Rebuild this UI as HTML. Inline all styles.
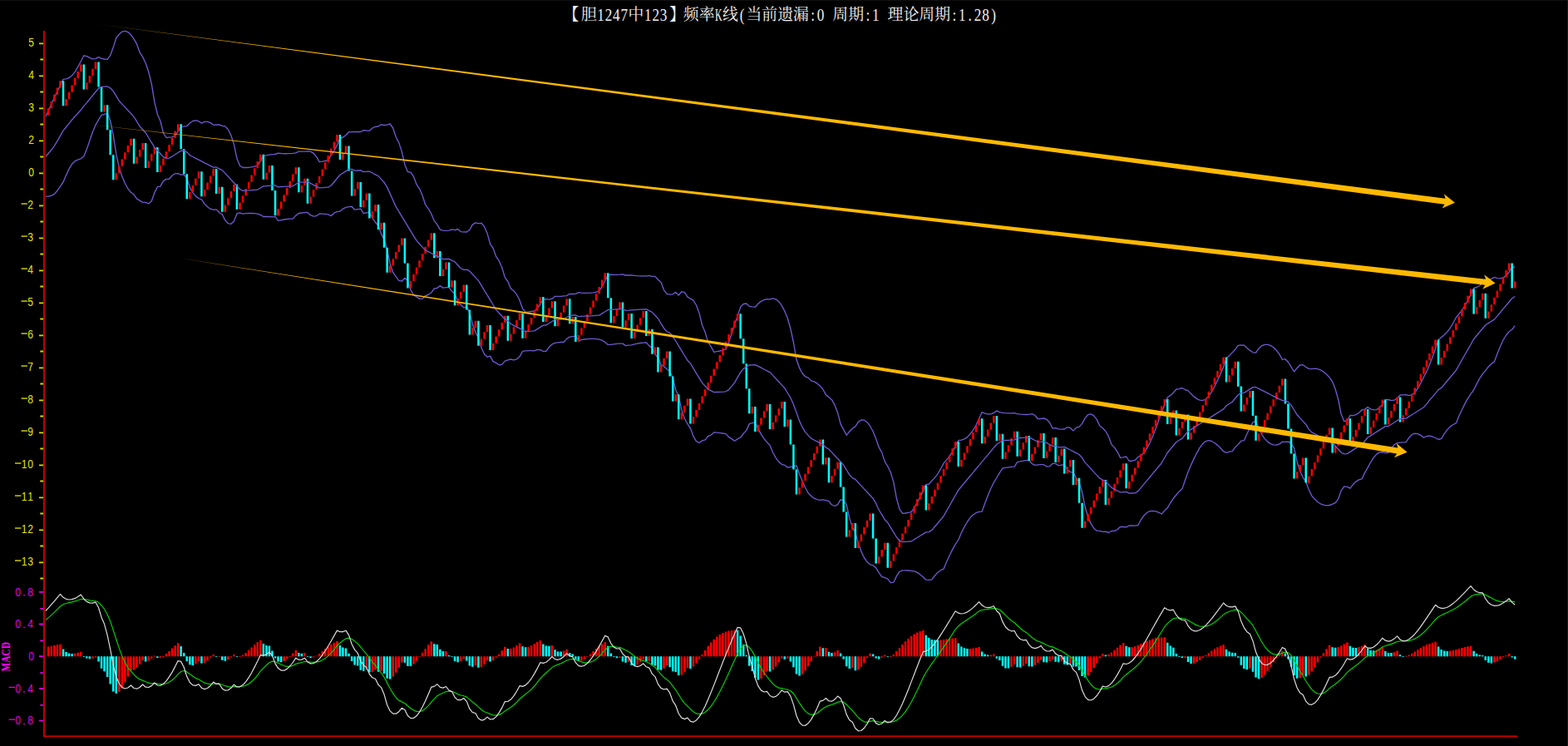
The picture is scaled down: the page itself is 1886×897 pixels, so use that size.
<!DOCTYPE html><html><head><meta charset="utf-8"><title>chart</title><style>html,body{margin:0;padding:0;background:#000;overflow:hidden}body{width:1886px;height:897px;position:relative;font-family:"Liberation Sans",sans-serif}</style></head><body><svg width="1886" height="897" viewBox="0 0 1886 897" style="position:absolute;left:0;top:0">
<rect width="1886" height="897" fill="#000"/>
<rect x="0" y="0" width="1886" height="1.2" fill="#0f0f0f"/><rect x="1884.8" y="0" width="1.2" height="897" fill="#171717"/>
<rect x="52" y="37" width="2.1" height="848.5" fill="#c00000"/>
<rect x="52" y="884.5" width="1773" height="1.5" fill="#e00000"/>
<path d="M47,52.3H52 M48.3,71.5H52 M47,91.3H52 M48.3,110.5H52 M47,130.3H52 M48.3,149.5H52 M47,169.3H52 M48.3,188.5H52 M47,208.3H52 M48.3,227.5H52 M47,247.3H52 M48.3,266.5H52 M47,286.3H52 M48.3,305.5H52 M47,325.3H52 M48.3,344.5H52 M47,364.3H52 M48.3,383.5H52 M47,403.3H52 M48.3,422.5H52 M47,442.3H52 M48.3,461.5H52 M47,481.3H52 M48.3,500.5H52 M47,520.3H52 M48.3,539.5H52 M47,559.3H52 M48.3,578.5H52 M47,598.3H52 M48.3,617.5H52 M47,637.3H52 M48.3,656.5H52 M47,676.3H52 M48.3,695.5H52" stroke="#d8d800" stroke-width="1.8" fill="none"/>
<path d="M47,711.8H52 M48.3,731.8H52 M47,750.5H52 M48.3,770.5H52 M47,789.2H52 M48.3,809.2H52 M47,827.9H52 M48.3,847.9H52 M47,866.6H52" stroke="#e000e0" stroke-width="1.8" fill="none"/>
<g font-family="Liberation Sans, sans-serif" font-size="14.4px">
<text transform="translate(37.5,56.2) scale(0.84,1)" text-anchor="middle" fill="#e6e600">5</text>
<text transform="translate(37.5,95.2) scale(0.84,1)" text-anchor="middle" fill="#e6e600">4</text>
<text transform="translate(37.5,134.2) scale(0.84,1)" text-anchor="middle" fill="#e6e600">3</text>
<text transform="translate(37.5,173.2) scale(0.84,1)" text-anchor="middle" fill="#e6e600">2</text>
<text transform="translate(37.5,212.2) scale(0.84,1)" text-anchor="middle" fill="#e6e600">0</text>
<rect x="25.5" y="244.4" width="7.4" height="1.3" fill="#e6e600"/><text transform="translate(36.5,251.2) scale(0.84,1)" text-anchor="middle" fill="#e6e600">2</text>
<rect x="25.5" y="283.4" width="7.4" height="1.3" fill="#e6e600"/><text transform="translate(36.5,290.2) scale(0.84,1)" text-anchor="middle" fill="#e6e600">3</text>
<rect x="25.5" y="322.4" width="7.4" height="1.3" fill="#e6e600"/><text transform="translate(36.5,329.2) scale(0.84,1)" text-anchor="middle" fill="#e6e600">4</text>
<rect x="25.5" y="361.4" width="7.4" height="1.3" fill="#e6e600"/><text transform="translate(36.5,368.2) scale(0.84,1)" text-anchor="middle" fill="#e6e600">5</text>
<rect x="25.5" y="400.4" width="7.4" height="1.3" fill="#e6e600"/><text transform="translate(36.5,407.2) scale(0.84,1)" text-anchor="middle" fill="#e6e600">6</text>
<rect x="25.5" y="439.4" width="7.4" height="1.3" fill="#e6e600"/><text transform="translate(36.5,446.2) scale(0.84,1)" text-anchor="middle" fill="#e6e600">7</text>
<rect x="25.5" y="478.4" width="7.4" height="1.3" fill="#e6e600"/><text transform="translate(36.5,485.2) scale(0.84,1)" text-anchor="middle" fill="#e6e600">8</text>
<rect x="25.5" y="517.4" width="7.4" height="1.3" fill="#e6e600"/><text transform="translate(36.5,524.2) scale(0.84,1)" text-anchor="middle" fill="#e6e600">9</text>
<rect x="18" y="556.4" width="7.4" height="1.3" fill="#e6e600"/><text transform="translate(29.1,563.2) scale(0.84,1)" text-anchor="middle" fill="#e6e600">1</text><text transform="translate(36.5,563.2) scale(0.84,1)" text-anchor="middle" fill="#e6e600">0</text>
<rect x="18" y="595.4" width="7.4" height="1.3" fill="#e6e600"/><text transform="translate(29.1,602.2) scale(0.84,1)" text-anchor="middle" fill="#e6e600">1</text><text transform="translate(36.5,602.2) scale(0.84,1)" text-anchor="middle" fill="#e6e600">1</text>
<rect x="18" y="634.4" width="7.4" height="1.3" fill="#e6e600"/><text transform="translate(29.1,641.2) scale(0.84,1)" text-anchor="middle" fill="#e6e600">1</text><text transform="translate(36.5,641.2) scale(0.84,1)" text-anchor="middle" fill="#e6e600">2</text>
<rect x="18" y="673.4" width="7.4" height="1.3" fill="#e6e600"/><text transform="translate(29.1,680.2) scale(0.84,1)" text-anchor="middle" fill="#e6e600">1</text><text transform="translate(36.5,680.2) scale(0.84,1)" text-anchor="middle" fill="#e6e600">3</text>
<text transform="translate(21.6,716.5) scale(0.84,1)" text-anchor="middle" fill="#e000e0">0</text><rect x="28.3" y="714.9" width="1.5" height="1.6" fill="#e000e0"/><text transform="translate(36.5,716.5) scale(0.84,1)" text-anchor="middle" fill="#e000e0">8</text>
<text transform="translate(21.6,755.2) scale(0.84,1)" text-anchor="middle" fill="#e000e0">0</text><rect x="28.3" y="753.6" width="1.5" height="1.6" fill="#e000e0"/><text transform="translate(36.5,755.2) scale(0.84,1)" text-anchor="middle" fill="#e000e0">4</text>
<text transform="translate(37.5,793.9) scale(0.84,1)" text-anchor="middle" fill="#e000e0">0</text>
<rect x="10.6" y="825.8" width="7.4" height="1.3" fill="#e000e0"/><text transform="translate(21.6,832.6) scale(0.84,1)" text-anchor="middle" fill="#e000e0">0</text><rect x="28.3" y="831" width="1.5" height="1.6" fill="#e000e0"/><text transform="translate(36.5,832.6) scale(0.84,1)" text-anchor="middle" fill="#e000e0">4</text>
<rect x="10.6" y="864.5" width="7.4" height="1.3" fill="#e000e0"/><text transform="translate(21.6,871.3) scale(0.84,1)" text-anchor="middle" fill="#e000e0">0</text><rect x="28.3" y="869.7" width="1.5" height="1.6" fill="#e000e0"/><text transform="translate(36.5,871.3) scale(0.84,1)" text-anchor="middle" fill="#e000e0">8</text>
</g>
<text transform="translate(12.4,807.5) rotate(-90)" font-family="Liberation Serif, serif" font-weight="bold" font-size="15.5px" fill="#ff00ff" textLength="35.5" lengthAdjust="spacingAndGlyphs">MACD</text>
<polyline points="54.8,140.3 58.3,133 61.8,125.2 65.4,117.3 68.9,109.9 72.5,102.8 76,95.3 79.6,94.8 83.1,93.5 86.6,90.8 90.2,86.3 93.7,80.4 97.3,73.7 100.8,66.8 104.3,67.6 107.9,69.4 111.4,70.8 115,70.7 118.5,68.6 122.1,70.4 125.6,71 129.1,71.3 132.7,66.6 136.2,57.1 139.8,45.5 143.3,41.2 146.8,38.1 150.4,37.3 153.9,38.6 157.5,41.8 161,46.9 164.6,53.2 168.1,62.9 171.6,68.4 175.2,76 178.7,86.2 182.3,100.9 185.8,122.4 189.4,137.5 192.9,145.5 196.4,159.6 200,165.5 203.5,165.1 207.1,164.9 210.6,162.7 214.1,158.4 217.7,152.4 221.2,152.2 224.8,151.7 228.3,148 231.9,145.5 235.4,144.8 238.9,145.7 242.5,148.1 246,146.4 249.6,146.3 253.1,147.6 256.7,150.2 260.2,150 263.7,150 267.3,151.3 270.8,151.9 274.4,155.7 277.9,162.7 281.4,173.6 285,190.6 288.5,199.2 292.1,201.5 295.6,201.5 299.2,201.3 302.7,200.8 306.2,200.2 309.8,199.3 313.3,193.7 316.9,187.1 320.4,186.8 323.9,186.2 327.5,185.6 331,185.5 334.6,184.2 338.1,184.5 341.7,184.7 345.2,184.7 348.7,184.6 352.3,184.3 355.8,183.8 359.4,182.1 362.9,182.2 366.5,182.1 370,181.8 373.5,182.2 377.1,184.3 380.6,188.4 384.2,194.7 387.7,194.2 391.2,193.5 394.8,192.6 398.3,186.5 401.9,181.3 405.4,174.6 409,166.5 412.5,165.1 416,162.5 419.6,158.7 423.1,158.6 426.7,158.3 430.2,158.5 433.8,158.5 437.3,156.6 440.8,157 444.4,157.2 447.9,154 451.5,152.3 455,152 458.5,149.8 462.1,150.5 465.6,150.2 469.2,149 472.7,154 476.3,164.7 479.8,171.6 483.3,182.4 486.9,198 490.4,206.5 494,207.1 497.5,212.3 501.1,221.9 504.6,227.1 508.1,235 511.7,246.3 515.2,250.9 518.8,257.2 522.3,265.6 525.8,269.8 529.4,276.2 532.9,277.2 536.5,277.3 540,277.2 543.6,275.9 547.1,276.7 550.6,275.5 554.2,278.6 557.7,278.9 561.3,279 564.8,276.5 568.3,270.1 571.9,267.9 575.4,268.7 579,268.3 582.5,272.4 586.1,280.6 589.6,293.3 593.1,298.5 596.7,308.4 600.2,313.6 603.8,321.7 607.3,333.6 610.9,338.5 614.4,346.9 617.9,349.7 621.5,354.2 625,360.9 628.6,371 632.1,375.1 635.6,375 639.2,374.5 642.7,373.9 646.3,370.9 649.8,366.1 653.4,359.8 656.9,359.6 660.4,360.2 664,359.2 667.5,356.3 671.1,356.4 674.6,356.3 678.1,355.9 681.7,355.6 685.2,353.3 688.8,353.5 692.3,353.4 695.9,351.7 699.4,352.1 702.9,352.4 706.5,352.4 710,352.2 713.6,351.8 717.1,351.1 720.7,350.2 724.2,344.7 727.7,338 731.3,330.6 734.8,330.2 738.4,330.3 741.9,330.3 745.4,330.1 749,329.8 752.5,331 756.1,331 759.6,330.9 763.2,331.4 766.7,331.7 770.2,331.9 773.8,331.9 777.3,331.8 780.9,331.3 784.4,332.4 788,332.4 791.5,336.2 795,339.2 798.6,348.8 802.1,353.3 805.7,354.2 809.2,353.8 812.7,351.4 816.3,355 819.8,350.7 823.4,351.7 826.9,356.9 830.5,359.2 834,361.2 837.5,367 841.1,376.7 844.6,391 848.2,399.6 851.7,411.6 855.2,416.7 858.8,423.4 862.3,422.7 865.9,422 869.4,421.1 873,420.1 876.5,411.9 880,401.2 883.6,390.1 887.1,379.9 890.7,369.3 894.2,365.5 897.8,365 901.3,368.3 904.8,368.8 908.4,369.2 911.9,365.1 915.5,362.3 919,360.5 922.5,359.7 926.1,359.8 929.6,358.8 933.2,359.8 936.7,362.7 940.3,367.4 943.8,374.1 947.3,382.8 950.9,395.3 954.4,411.5 958,432.3 961.5,442.1 965.1,449 968.6,452.8 972.1,454.1 975.7,457.9 979.2,458.9 982.8,460.9 986.3,463.9 989.8,468 993.4,474.9 996.9,477.4 1000.5,480.7 1004,486.9 1007.6,496.3 1011.1,509.9 1014.6,516.4 1018.2,523.3 1021.7,518.7 1025.3,515.2 1028.8,512.9 1032.3,507.4 1035.9,505 1039.4,505.2 1043,507.7 1046.5,512.2 1050.1,518.8 1053.6,527.5 1057.1,537.7 1060.7,544.1 1064.2,554.9 1067.8,560.8 1071.3,568 1074.9,580.1 1078.4,599.3 1081.9,612.1 1085.5,617.4 1089,617 1092.6,616.4 1096.1,615.6 1099.6,610.6 1103.2,604.6 1106.7,597.8 1110.3,590.4 1113.8,582.6 1117.4,582 1120.9,578 1124.4,574.4 1128,569.6 1131.5,563.7 1135.1,556.9 1138.6,552.9 1142.2,548.3 1145.7,542.8 1149.2,536.6 1152.8,529.5 1156.3,529.2 1159.9,527.9 1163.4,525.6 1166.9,522 1170.5,517.1 1174,511 1177.6,503.8 1181.1,495.6 1184.7,497.1 1188.2,497.9 1191.7,497.8 1195.3,496.5 1198.8,493.9 1202.4,495.6 1205.9,496.3 1209.4,496.7 1213,496.9 1216.5,496.8 1220.1,496.6 1223.6,497.7 1227.2,498.2 1230.7,498.4 1234.2,498.5 1237.8,498.3 1241.3,497.7 1244.9,499.5 1248.4,503.7 1252,503.5 1255.5,503 1259,504.3 1262.6,508.2 1266.1,515.2 1269.7,514.7 1273.2,515.9 1276.7,516.1 1280.3,516 1283.8,513.7 1287.4,514.5 1290.9,517.9 1294.5,514.2 1298,513.4 1301.5,509.4 1305.1,502.9 1308.6,498.6 1312.2,497.8 1315.7,499.9 1319.3,504.6 1322.8,512 1326.3,514.7 1329.9,518.5 1333.4,524.8 1337,534.4 1340.5,538.1 1344,543.3 1347.6,550.4 1351.1,549.8 1354.7,549 1358.2,554.5 1361.8,554 1365.3,553.4 1368.8,549.5 1372.4,547.7 1375.9,544.3 1379.5,539.2 1383,532.6 1386.5,524.6 1390.1,515.6 1393.6,505.8 1397.2,495.4 1400.7,486.9 1404.3,477.7 1407.8,475.4 1411.3,472.2 1414.9,468 1418.4,467.7 1422,466.5 1425.5,468.5 1429.1,469.9 1432.6,473.6 1436.1,476.9 1439.7,479.6 1443.2,481.2 1446.8,481.5 1450.3,480 1453.8,476.4 1457.4,471.2 1460.9,464.7 1464.5,457.4 1468,449.5 1471.6,441.2 1475.1,431 1478.6,427.8 1482.2,423.9 1485.7,420.2 1489.3,415.4 1492.8,414.9 1496.4,415.1 1499.9,418.4 1503.4,421.4 1507,423.8 1510.5,424.2 1514.1,419 1517.6,415.9 1521.1,414.4 1524.7,414.3 1528.2,415.4 1531.8,417.7 1535.3,421.2 1538.9,426 1542.4,432.3 1545.9,431.7 1549.5,435.5 1553,441.2 1556.6,447 1560.1,442.4 1563.6,438.9 1567.2,438.7 1570.7,441.3 1574.3,443.3 1577.8,443.6 1581.4,443.1 1584.9,443.6 1588.4,444.8 1592,447 1595.5,450 1599.1,453.9 1602.6,458.8 1606.2,468 1609.7,480.5 1613.2,498.1 1616.8,506.7 1620.3,505.8 1623.9,499.5 1627.4,499.7 1630.9,498.7 1634.5,496.5 1638,493 1641.6,492.1 1645.1,489.6 1648.7,491.8 1652.2,492.9 1655.7,492.6 1659.3,490.3 1662.8,486.3 1666.4,480.7 1669.9,480.5 1673.5,481.6 1677,481.2 1680.5,479 1684.1,475 1687.6,474.9 1691.2,474.6 1694.7,475.6 1698.2,474.7 1701.8,471.8 1705.3,467 1708.9,460.7 1712.4,453.5 1716,446.7 1719.5,438.5 1723,429.2 1726.6,419.3 1730.1,408.8 1733.7,405.4 1737.2,402.8 1740.7,399.1 1744.3,394.3 1747.8,388.5 1751.4,381.7 1754.9,377.7 1758.5,373 1762,367.6 1765.5,361.3 1769.1,354.3 1772.6,346.5 1776.2,345.5 1779.7,343.5 1783.3,340.5 1786.8,336.2 1790.3,336.2 1793.9,335.3 1797.4,333.4 1801,334.6 1804.5,334.8 1808,333.9 1811.6,331.4 1815.1,327.2 1818.7,321.2 1822.2,321.3" fill="none" stroke="#6a5acd" stroke-width="1.35" stroke-linejoin="round"/>
<polyline points="54.8,236.1 58.3,236 61.8,235.4 65.4,233.4 68.9,229.3 72.5,224.1 76,219 79.6,210.6 83.1,203.1 86.6,197.2 90.2,193.7 93.7,192.1 97.3,190.8 100.8,188 104.3,179.6 107.9,169 111.4,158.8 115,150.2 118.5,144.2 122.1,138.4 125.6,137.4 129.1,136.6 132.7,145 136.2,162.1 139.8,185.4 143.3,201.3 146.8,212.1 150.4,220.5 153.9,226.8 157.5,231.3 161,233.8 164.6,239.2 168.1,241.1 171.6,243.3 175.2,243.4 178.7,244.8 182.3,241.7 185.8,231.9 189.4,224.5 192.9,224.1 196.4,217.6 200,215.4 203.5,215.3 207.1,211 210.6,208.8 214.1,208.7 217.7,210.2 221.2,210 224.8,214.1 228.3,225.4 231.9,231.6 235.4,235.9 238.9,238.6 242.5,239.8 246,245.1 249.6,248.8 253.1,251.2 256.7,252.2 260.2,251.9 263.7,255.5 267.3,257.9 270.8,264.9 274.4,268.7 277.9,269.3 281.4,266.1 285,256.7 288.5,255.8 292.1,257.1 295.6,256.7 299.2,256.4 302.7,256.5 306.2,256.7 309.8,257.2 313.3,258.3 316.9,260.5 320.4,260.4 323.9,260.5 327.5,260.8 331,260.4 334.6,265.4 338.1,264.6 341.7,264 345.2,263.5 348.7,263.2 352.3,263.1 355.8,259.1 359.4,256.5 362.9,256 366.5,255.6 370,255.4 373.5,258.7 377.1,260.2 380.6,259.7 384.2,257 387.7,257.1 391.2,257.4 394.8,257.9 398.3,259.6 401.9,256.2 405.4,254.5 409,254.1 412.5,251.1 416,249.3 419.6,248.6 423.1,248.3 426.7,252.2 430.2,251.6 433.8,251.1 437.3,256.6 440.8,255.8 444.4,255.2 447.9,262.1 451.5,267.3 455,271.2 458.5,281.1 462.1,288 465.6,300 469.2,316.9 472.7,327.5 476.3,332.6 479.8,337.3 483.3,338.2 486.9,334.3 490.4,337.4 494,348.5 497.5,354.9 501.1,356.9 504.6,359.4 508.1,359.2 511.7,355.5 515.2,354.5 518.8,351.8 522.3,347 525.8,346.4 529.4,343.6 532.9,346.2 536.5,345.7 540,345.4 543.6,350.3 547.1,353.2 550.6,362 554.2,366.5 557.7,369.8 561.3,369.2 564.8,375.4 568.3,389.4 571.9,399.2 575.4,406.1 579,418.1 582.5,425.7 586.1,429.2 589.6,428.1 593.1,434.6 596.7,436.4 600.2,438.8 603.8,438.3 607.3,434.1 610.9,432.8 614.4,432 617.9,432.9 621.5,431.9 625,428.8 628.6,422.3 632.1,421.9 635.6,421.6 639.2,421.6 642.7,421.8 646.3,420.3 649.8,420.7 653.4,422.5 656.9,422.4 660.4,417.3 664,413.9 667.5,412.3 671.1,411.8 674.6,411.5 678.1,411.5 681.7,407.4 685.2,405.1 688.8,404.6 692.3,404.2 695.9,409.6 699.4,408.7 702.9,408 706.5,407.6 710,407.4 713.6,407.4 717.1,407.7 720.7,408.1 724.2,409.2 727.7,411.4 731.3,414.4 734.8,414.4 738.4,413.8 741.9,413.4 745.4,413.2 749,413.1 752.5,415.6 756.1,415.1 759.6,414.8 763.2,413.9 766.7,413.1 770.2,412.5 773.8,412.1 777.3,411.8 780.9,415.9 784.4,418.4 788,426.1 791.5,429.9 795,438.5 798.6,440.6 802.1,443.8 805.7,446.5 809.2,454.5 812.7,468.5 816.3,476.6 819.8,492.6 823.4,503.3 826.9,509.7 830.5,515 834,524.7 837.5,530.6 841.1,532.5 844.6,529.9 848.2,528.9 851.7,524.5 855.2,523.1 858.8,520 862.3,520.2 865.9,520.6 869.4,521 873,521.6 876.5,525.4 880,527.6 883.6,530.2 887.1,527.9 890.7,526 894.2,521.4 897.8,517.4 901.3,509.6 904.8,508.7 908.4,507.9 911.9,515.6 915.5,522.1 919,527.4 922.5,531.8 926.1,535.4 929.6,544 933.2,550.6 936.7,555.4 940.3,558.3 943.8,559.3 947.3,562.2 950.9,561.3 954.4,560.8 958,559.8 961.5,569.7 965.1,578.4 968.6,586.3 972.1,592.7 975.7,596.5 979.2,599.1 982.8,600.7 986.3,601.3 989.8,600.9 993.4,601.6 996.9,602.7 1000.5,607 1004,608.5 1007.6,606.7 1011.1,600.7 1014.6,601.9 1018.2,606.7 1021.7,622.9 1025.3,634.1 1028.8,639.9 1032.3,653.1 1035.9,663.1 1039.4,670.5 1043,675.7 1046.5,678.8 1050.1,679.8 1053.6,682.8 1057.1,688.3 1060.7,693.6 1064.2,694.5 1067.8,696.2 1071.3,700.7 1074.9,700.2 1078.4,692.6 1081.9,687.5 1085.5,685.8 1089,685.8 1092.6,686 1096.1,686.3 1099.6,686.9 1103.2,688.4 1106.7,690.8 1110.3,693.8 1113.8,697.2 1117.4,697.3 1120.9,696.8 1124.4,692 1128,688.3 1131.5,685.7 1135.1,684.1 1138.6,675.5 1142.2,667.7 1145.7,660.6 1149.2,654.4 1152.8,649 1156.3,640.8 1159.9,633.6 1163.4,627.5 1166.9,622.6 1170.5,619 1174,616.7 1177.6,615.4 1181.1,615.1 1184.7,605.2 1188.2,595.9 1191.7,587.5 1195.3,580.3 1198.8,574.5 1202.4,568.3 1205.9,563.2 1209.4,562.4 1213,561.8 1216.5,561.4 1220.1,561.2 1223.6,555.6 1227.2,554.8 1230.7,554.1 1234.2,553.6 1237.8,553.4 1241.3,557.6 1244.9,559.4 1248.4,558.9 1252,558.6 1255.5,558.7 1259,561 1262.6,560.7 1266.1,557.3 1269.7,557.4 1273.2,559.8 1276.7,559.2 1280.3,558.8 1283.8,564.8 1287.4,567.6 1290.9,567.8 1294.5,575.1 1298,579.5 1301.5,591.2 1305.1,609.3 1308.6,621.3 1312.2,629.7 1315.7,635.2 1319.3,638.2 1322.8,638.4 1326.3,639.3 1329.9,639.1 1333.4,640.5 1337,638.5 1340.5,638.4 1344,636.8 1347.6,633.3 1351.1,633.5 1354.7,633.9 1358.2,632 1361.8,632 1365.3,632.2 1368.8,631.7 1372.4,625 1375.9,619.9 1379.5,616.5 1383,614.7 1386.5,614.3 1390.1,614.8 1393.6,616.1 1397.2,618 1400.7,614.1 1404.3,610.7 1407.8,604.5 1411.3,599.3 1414.9,595 1418.4,590.9 1422,587.6 1425.5,577.2 1429.1,567.3 1432.6,559.1 1436.1,551.4 1439.7,544.3 1443.2,538.2 1446.8,533.5 1450.3,530.6 1453.8,529.7 1457.4,530.5 1460.9,532.5 1464.5,535.4 1468,538.8 1471.6,542.7 1475.1,544.4 1478.6,543.1 1482.2,542.6 1485.7,537.9 1489.3,534.2 1492.8,530.2 1496.4,529.7 1499.9,521.8 1503.4,514.4 1507,507.6 1510.5,506.7 1514.1,515.6 1517.6,522.3 1521.1,527.4 1524.7,531.1 1528.2,533.6 1531.8,534.9 1535.3,535.1 1538.9,533.9 1542.4,531.2 1545.9,531.3 1549.5,531.2 1553,533.1 1556.6,538.9 1560.1,555.2 1563.6,566.3 1567.2,574.1 1570.7,579.2 1574.3,588.8 1577.8,596.1 1581.4,600.3 1584.9,603.5 1588.4,605.8 1592,607.2 1595.5,607.8 1599.1,607.5 1602.6,606.2 1606.2,604.7 1609.7,599.9 1613.2,589.9 1616.8,584.9 1620.3,585.3 1623.9,587.2 1627.4,582.6 1630.9,579.1 1634.5,576.9 1638,575.9 1641.6,568.4 1645.1,562.4 1648.7,555.8 1652.2,550.2 1655.7,546.1 1659.3,543.9 1662.8,543.5 1666.4,544.6 1669.9,544.4 1673.5,538.9 1677,534.8 1680.5,532.6 1684.1,532.2 1687.6,531.8 1691.2,531.7 1694.7,526.3 1698.2,522.7 1701.8,521.2 1705.3,521.6 1708.9,523.4 1712.4,526.2 1716,524.5 1719.5,524.2 1723,525 1726.6,526.5 1730.1,528.5 1733.7,527.4 1737.2,521.6 1740.7,516.8 1744.3,513.1 1747.8,510.5 1751.4,508.8 1754.9,500.3 1758.5,492.5 1762,485.4 1765.5,479.2 1769.1,473.7 1772.6,469 1776.2,461.6 1779.7,455.1 1783.3,449.6 1786.8,445.4 1790.3,441 1793.9,437.4 1797.4,434.9 1801,425.3 1804.5,416.5 1808,409 1811.6,403 1815.1,398.8 1818.7,396.3 1822.2,391.7" fill="none" stroke="#6a5acd" stroke-width="1.35" stroke-linejoin="round"/>
<path d="M57,130.2h2.5v8.3h-2.5zM60.6,122h2.5v8.3h-2.5zM64.1,113.7h2.5v8.3h-2.5zM67.7,105.5h2.5v8.3h-2.5zM71.2,97.2h2.5v8.3h-2.5zM78.3,118.9h2.5v8.3h-2.5zM81.8,110.7h2.5v8.3h-2.5zM85.4,102.4h2.5v8.3h-2.5zM88.9,94.1h2.5v8.3h-2.5zM92.5,85.9h2.5v8.3h-2.5zM96,77.6h2.5v8.3h-2.5zM103.1,99.3h2.5v8.3h-2.5zM106.6,91.1h2.5v8.3h-2.5zM110.2,82.8h2.5v8.3h-2.5zM113.7,74.6h2.5v8.3h-2.5zM124.3,126.3h2.5v8.3h-2.5zM138.5,208h2.5v8.3h-2.5zM142.1,199.7h2.5v8.3h-2.5zM145.6,191.5h2.5v8.3h-2.5zM149.1,183.2h2.5v8.3h-2.5zM152.7,174.9h2.5v8.3h-2.5zM156.2,166.7h2.5v8.3h-2.5zM163.3,188.4h2.5v8.3h-2.5zM166.9,180.1h2.5v8.3h-2.5zM170.4,171.9h2.5v8.3h-2.5zM177.5,193.6h2.5v8.3h-2.5zM181,185.3h2.5v8.3h-2.5zM184.6,177.1h2.5v8.3h-2.5zM191.6,198.8h2.5v8.3h-2.5zM195.2,190.5h2.5v8.3h-2.5zM198.7,182.3h2.5v8.3h-2.5zM202.3,174h2.5v8.3h-2.5zM205.8,165.8h2.5v8.3h-2.5zM209.4,157.5h2.5v8.3h-2.5zM212.9,149.2h2.5v8.3h-2.5zM227.1,230.9h2.5v8.3h-2.5zM230.6,222.7h2.5v8.3h-2.5zM234.1,214.4h2.5v8.3h-2.5zM237.7,206.2h2.5v8.3h-2.5zM244.8,227.9h2.5v8.3h-2.5zM248.3,219.6h2.5v8.3h-2.5zM251.9,211.4h2.5v8.3h-2.5zM255.4,203.1h2.5v8.3h-2.5zM262.5,224.8h2.5v8.3h-2.5zM269.6,246.6h2.5v8.3h-2.5zM273.1,238.3h2.5v8.3h-2.5zM276.7,230h2.5v8.3h-2.5zM280.2,221.8h2.5v8.3h-2.5zM287.3,243.5h2.5v8.3h-2.5zM290.8,235.2h2.5v8.3h-2.5zM294.4,227h2.5v8.3h-2.5zM297.9,218.7h2.5v8.3h-2.5zM301.4,210.5h2.5v8.3h-2.5zM305,202.2h2.5v8.3h-2.5zM308.5,193.9h2.5v8.3h-2.5zM312.1,185.7h2.5v8.3h-2.5zM319.2,207.4h2.5v8.3h-2.5zM322.7,199.1h2.5v8.3h-2.5zM333.3,250.9h2.5v8.3h-2.5zM336.9,242.6h2.5v8.3h-2.5zM340.4,234.3h2.5v8.3h-2.5zM344,226.1h2.5v8.3h-2.5zM347.5,217.8h2.5v8.3h-2.5zM351,209.5h2.5v8.3h-2.5zM354.6,201.3h2.5v8.3h-2.5zM361.7,223h2.5v8.3h-2.5zM365.2,214.7h2.5v8.3h-2.5zM372.3,236.5h2.5v8.3h-2.5zM375.8,228.2h2.5v8.3h-2.5zM379.4,220h2.5v8.3h-2.5zM382.9,211.7h2.5v8.3h-2.5zM386.5,203.4h2.5v8.3h-2.5zM390,195.2h2.5v8.3h-2.5zM393.5,186.9h2.5v8.3h-2.5zM397.1,178.6h2.5v8.3h-2.5zM400.6,170.4h2.5v8.3h-2.5zM404.2,162.1h2.5v8.3h-2.5zM411.2,183.9h2.5v8.3h-2.5zM414.8,175.6h2.5v8.3h-2.5zM425.4,227.3h2.5v8.3h-2.5zM429,219h2.5v8.3h-2.5zM436,240.8h2.5v8.3h-2.5zM439.6,232.5h2.5v8.3h-2.5zM446.7,254.2h2.5v8.3h-2.5zM450.2,246h2.5v8.3h-2.5zM457.3,267.7h2.5v8.3h-2.5zM467.9,319.4h2.5v8.3h-2.5zM471.5,311.2h2.5v8.3h-2.5zM475,302.9h2.5v8.3h-2.5zM478.5,294.6h2.5v8.3h-2.5zM482.1,286.4h2.5v8.3h-2.5zM492.7,338.1h2.5v8.3h-2.5zM496.3,329.8h2.5v8.3h-2.5zM499.8,321.6h2.5v8.3h-2.5zM503.3,313.3h2.5v8.3h-2.5zM506.9,305h2.5v8.3h-2.5zM510.4,296.8h2.5v8.3h-2.5zM514,288.5h2.5v8.3h-2.5zM517.5,280.3h2.5v8.3h-2.5zM524.6,302h2.5v8.3h-2.5zM531.7,323.7h2.5v8.3h-2.5zM535.2,315.5h2.5v8.3h-2.5zM542.3,337.2h2.5v8.3h-2.5zM549.4,358.9h2.5v8.3h-2.5zM552.9,350.7h2.5v8.3h-2.5zM556.5,342.4h2.5v8.3h-2.5zM567.1,394.1h2.5v8.3h-2.5zM570.6,385.8h2.5v8.3h-2.5zM577.7,407.6h2.5v8.3h-2.5zM581.3,399.3h2.5v8.3h-2.5zM584.8,391h2.5v8.3h-2.5zM591.9,412.8h2.5v8.3h-2.5zM595.4,404.5h2.5v8.3h-2.5zM599,396.3h2.5v8.3h-2.5zM602.5,388h2.5v8.3h-2.5zM606.1,379.7h2.5v8.3h-2.5zM613.1,401.5h2.5v8.3h-2.5zM616.7,393.2h2.5v8.3h-2.5zM620.2,384.9h2.5v8.3h-2.5zM623.8,376.7h2.5v8.3h-2.5zM630.9,398.4h2.5v8.3h-2.5zM634.4,390.1h2.5v8.3h-2.5zM637.9,381.9h2.5v8.3h-2.5zM641.5,373.6h2.5v8.3h-2.5zM645,365.4h2.5v8.3h-2.5zM648.6,357.1h2.5v8.3h-2.5zM655.6,378.8h2.5v8.3h-2.5zM659.2,370.6h2.5v8.3h-2.5zM662.7,362.3h2.5v8.3h-2.5zM669.8,384h2.5v8.3h-2.5zM673.4,375.8h2.5v8.3h-2.5zM676.9,367.5h2.5v8.3h-2.5zM680.4,359.2h2.5v8.3h-2.5zM687.5,381h2.5v8.3h-2.5zM694.6,402.7h2.5v8.3h-2.5zM698.2,394.4h2.5v8.3h-2.5zM701.7,386.2h2.5v8.3h-2.5zM705.2,377.9h2.5v8.3h-2.5zM708.8,369.6h2.5v8.3h-2.5zM712.3,361.4h2.5v8.3h-2.5zM715.9,353.1h2.5v8.3h-2.5zM719.4,344.9h2.5v8.3h-2.5zM722.9,336.6h2.5v8.3h-2.5zM726.5,328.3h2.5v8.3h-2.5zM737.1,380.1h2.5v8.3h-2.5zM740.7,371.8h2.5v8.3h-2.5zM744.2,363.5h2.5v8.3h-2.5zM751.3,385.3h2.5v8.3h-2.5zM754.8,377h2.5v8.3h-2.5zM761.9,398.7h2.5v8.3h-2.5zM765.4,390.5h2.5v8.3h-2.5zM769,382.2h2.5v8.3h-2.5zM772.5,373.9h2.5v8.3h-2.5zM779.6,395.7h2.5v8.3h-2.5zM786.7,417.4h2.5v8.3h-2.5zM793.8,439.1h2.5v8.3h-2.5zM797.3,430.9h2.5v8.3h-2.5zM800.9,422.6h2.5v8.3h-2.5zM811.5,474.3h2.5v8.3h-2.5zM818.6,496.1h2.5v8.3h-2.5zM822.1,487.8h2.5v8.3h-2.5zM825.7,479.5h2.5v8.3h-2.5zM832.7,501.3h2.5v8.3h-2.5zM836.3,493h2.5v8.3h-2.5zM839.8,484.7h2.5v8.3h-2.5zM843.4,476.5h2.5v8.3h-2.5zM846.9,468.2h2.5v8.3h-2.5zM850.5,459.9h2.5v8.3h-2.5zM854,451.7h2.5v8.3h-2.5zM857.5,443.4h2.5v8.3h-2.5zM861.1,435.2h2.5v8.3h-2.5zM864.6,426.9h2.5v8.3h-2.5zM868.2,418.6h2.5v8.3h-2.5zM871.7,410.4h2.5v8.3h-2.5zM875.3,402.1h2.5v8.3h-2.5zM878.8,393.9h2.5v8.3h-2.5zM882.3,385.6h2.5v8.3h-2.5zM885.9,377.3h2.5v8.3h-2.5zM903.6,489h2.5v8.3h-2.5zM910.7,510.8h2.5v8.3h-2.5zM914.2,502.5h2.5v8.3h-2.5zM917.8,494.2h2.5v8.3h-2.5zM921.3,486h2.5v8.3h-2.5zM928.4,507.7h2.5v8.3h-2.5zM931.9,499.4h2.5v8.3h-2.5zM935.5,491.2h2.5v8.3h-2.5zM939,482.9h2.5v8.3h-2.5zM946.1,504.6h2.5v8.3h-2.5zM960.3,586.3h2.5v8.3h-2.5zM963.8,578.1h2.5v8.3h-2.5zM967.3,569.8h2.5v8.3h-2.5zM970.9,561.6h2.5v8.3h-2.5zM974.4,553.3h2.5v8.3h-2.5zM978,545h2.5v8.3h-2.5zM981.5,536.8h2.5v8.3h-2.5zM985.1,528.5h2.5v8.3h-2.5zM992.1,550.2h2.5v8.3h-2.5zM999.2,572h2.5v8.3h-2.5zM1002.8,563.7h2.5v8.3h-2.5zM1006.3,555.4h2.5v8.3h-2.5zM1020.5,637.2h2.5v8.3h-2.5zM1024,628.9h2.5v8.3h-2.5zM1031.1,650.6h2.5v8.3h-2.5zM1034.6,642.4h2.5v8.3h-2.5zM1038.2,634.1h2.5v8.3h-2.5zM1041.7,625.8h2.5v8.3h-2.5zM1045.3,617.6h2.5v8.3h-2.5zM1055.9,669.3h2.5v8.3h-2.5zM1059.4,661h2.5v8.3h-2.5zM1063,652.8h2.5v8.3h-2.5zM1070.1,674.5h2.5v8.3h-2.5zM1073.6,666.2h2.5v8.3h-2.5zM1077.1,658h2.5v8.3h-2.5zM1080.7,649.7h2.5v8.3h-2.5zM1084.2,641.5h2.5v8.3h-2.5zM1087.8,633.2h2.5v8.3h-2.5zM1091.3,624.9h2.5v8.3h-2.5zM1094.9,616.7h2.5v8.3h-2.5zM1098.4,608.4h2.5v8.3h-2.5zM1101.9,600.1h2.5v8.3h-2.5zM1105.5,591.9h2.5v8.3h-2.5zM1109,583.6h2.5v8.3h-2.5zM1116.1,605.3h2.5v8.3h-2.5zM1119.6,597.1h2.5v8.3h-2.5zM1123.2,588.8h2.5v8.3h-2.5zM1126.7,580.6h2.5v8.3h-2.5zM1130.3,572.3h2.5v8.3h-2.5zM1133.8,564h2.5v8.3h-2.5zM1137.4,555.8h2.5v8.3h-2.5zM1140.9,547.5h2.5v8.3h-2.5zM1144.4,539.3h2.5v8.3h-2.5zM1148,531h2.5v8.3h-2.5zM1155.1,552.7h2.5v8.3h-2.5zM1158.6,544.5h2.5v8.3h-2.5zM1162.2,536.2h2.5v8.3h-2.5zM1165.7,527.9h2.5v8.3h-2.5zM1169.2,519.7h2.5v8.3h-2.5zM1172.8,511.4h2.5v8.3h-2.5zM1176.3,503.2h2.5v8.3h-2.5zM1183.4,524.9h2.5v8.3h-2.5zM1186.9,516.6h2.5v8.3h-2.5zM1190.5,508.4h2.5v8.3h-2.5zM1194,500.1h2.5v8.3h-2.5zM1201.1,521.8h2.5v8.3h-2.5zM1208.2,543.5h2.5v8.3h-2.5zM1211.7,535.3h2.5v8.3h-2.5zM1215.3,527h2.5v8.3h-2.5zM1218.8,518.8h2.5v8.3h-2.5zM1225.9,540.5h2.5v8.3h-2.5zM1229.5,532.2h2.5v8.3h-2.5zM1233,524h2.5v8.3h-2.5zM1240.1,545.7h2.5v8.3h-2.5zM1243.6,537.4h2.5v8.3h-2.5zM1247.2,529.2h2.5v8.3h-2.5zM1250.7,520.9h2.5v8.3h-2.5zM1257.8,542.6h2.5v8.3h-2.5zM1261.3,534.4h2.5v8.3h-2.5zM1264.9,526.1h2.5v8.3h-2.5zM1272,547.8h2.5v8.3h-2.5zM1275.5,539.6h2.5v8.3h-2.5zM1282.6,561.3h2.5v8.3h-2.5zM1286.1,553h2.5v8.3h-2.5zM1293.2,574.8h2.5v8.3h-2.5zM1303.8,626.5h2.5v8.3h-2.5zM1307.4,618.2h2.5v8.3h-2.5zM1310.9,610h2.5v8.3h-2.5zM1314.5,601.7h2.5v8.3h-2.5zM1318,593.4h2.5v8.3h-2.5zM1321.5,585.2h2.5v8.3h-2.5zM1325.1,576.9h2.5v8.3h-2.5zM1332.2,598.7h2.5v8.3h-2.5zM1335.7,590.4h2.5v8.3h-2.5zM1339.3,582.1h2.5v8.3h-2.5zM1342.8,573.9h2.5v8.3h-2.5zM1346.3,565.6h2.5v8.3h-2.5zM1349.9,557.3h2.5v8.3h-2.5zM1357,579.1h2.5v8.3h-2.5zM1360.5,570.8h2.5v8.3h-2.5zM1364,562.5h2.5v8.3h-2.5zM1367.6,554.3h2.5v8.3h-2.5zM1371.1,546h2.5v8.3h-2.5zM1374.7,537.8h2.5v8.3h-2.5zM1378.2,529.5h2.5v8.3h-2.5zM1381.8,521.2h2.5v8.3h-2.5zM1385.3,513h2.5v8.3h-2.5zM1388.8,504.7h2.5v8.3h-2.5zM1392.4,496.5h2.5v8.3h-2.5zM1395.9,488.2h2.5v8.3h-2.5zM1399.5,479.9h2.5v8.3h-2.5zM1406.6,501.7h2.5v8.3h-2.5zM1410.1,493.4h2.5v8.3h-2.5zM1417.2,515.1h2.5v8.3h-2.5zM1420.7,506.9h2.5v8.3h-2.5zM1424.3,498.6h2.5v8.3h-2.5zM1431.3,520.3h2.5v8.3h-2.5zM1434.9,512.1h2.5v8.3h-2.5zM1438.4,503.8h2.5v8.3h-2.5zM1442,495.5h2.5v8.3h-2.5zM1445.5,487.3h2.5v8.3h-2.5zM1449.1,479h2.5v8.3h-2.5zM1452.6,470.8h2.5v8.3h-2.5zM1456.1,462.5h2.5v8.3h-2.5zM1459.7,454.2h2.5v8.3h-2.5zM1463.2,446h2.5v8.3h-2.5zM1466.8,437.7h2.5v8.3h-2.5zM1470.3,429.5h2.5v8.3h-2.5zM1477.4,451.2h2.5v8.3h-2.5zM1480.9,442.9h2.5v8.3h-2.5zM1484.5,434.7h2.5v8.3h-2.5zM1495.1,486.4h2.5v8.3h-2.5zM1498.6,478.1h2.5v8.3h-2.5zM1502.2,469.9h2.5v8.3h-2.5zM1512.8,521.6h2.5v8.3h-2.5zM1516.4,513.3h2.5v8.3h-2.5zM1519.9,505h2.5v8.3h-2.5zM1523.4,496.8h2.5v8.3h-2.5zM1527,488.5h2.5v8.3h-2.5zM1530.5,480.3h2.5v8.3h-2.5zM1534.1,472h2.5v8.3h-2.5zM1537.6,463.7h2.5v8.3h-2.5zM1541.1,455.5h2.5v8.3h-2.5zM1558.9,567.2h2.5v8.3h-2.5zM1562.4,558.9h2.5v8.3h-2.5zM1565.9,550.6h2.5v8.3h-2.5zM1573,572.4h2.5v8.3h-2.5zM1576.6,564.1h2.5v8.3h-2.5zM1580.1,555.9h2.5v8.3h-2.5zM1583.7,547.6h2.5v8.3h-2.5zM1587.2,539.3h2.5v8.3h-2.5zM1590.7,531.1h2.5v8.3h-2.5zM1594.3,522.8h2.5v8.3h-2.5zM1597.8,514.5h2.5v8.3h-2.5zM1604.9,536.3h2.5v8.3h-2.5zM1608.4,528h2.5v8.3h-2.5zM1612,519.7h2.5v8.3h-2.5zM1615.5,511.5h2.5v8.3h-2.5zM1619.1,503.2h2.5v8.3h-2.5zM1626.2,525h2.5v8.3h-2.5zM1629.7,516.7h2.5v8.3h-2.5zM1633.2,508.4h2.5v8.3h-2.5zM1636.8,500.2h2.5v8.3h-2.5zM1640.3,491.9h2.5v8.3h-2.5zM1647.4,513.6h2.5v8.3h-2.5zM1650.9,505.4h2.5v8.3h-2.5zM1654.5,497.1h2.5v8.3h-2.5zM1658,488.8h2.5v8.3h-2.5zM1661.6,480.6h2.5v8.3h-2.5zM1668.7,502.3h2.5v8.3h-2.5zM1672.2,494.1h2.5v8.3h-2.5zM1675.7,485.8h2.5v8.3h-2.5zM1679.3,477.5h2.5v8.3h-2.5zM1686.4,499.3h2.5v8.3h-2.5zM1689.9,491h2.5v8.3h-2.5zM1693.5,482.7h2.5v8.3h-2.5zM1697,474.5h2.5v8.3h-2.5zM1700.5,466.2h2.5v8.3h-2.5zM1704.1,458h2.5v8.3h-2.5zM1707.6,449.7h2.5v8.3h-2.5zM1711.2,441.4h2.5v8.3h-2.5zM1714.7,433.2h2.5v8.3h-2.5zM1718.2,424.9h2.5v8.3h-2.5zM1721.8,416.6h2.5v8.3h-2.5zM1725.3,408.4h2.5v8.3h-2.5zM1732.4,430.1h2.5v8.3h-2.5zM1736,421.8h2.5v8.3h-2.5zM1739.5,413.6h2.5v8.3h-2.5zM1743,405.3h2.5v8.3h-2.5zM1746.6,397.1h2.5v8.3h-2.5zM1750.1,388.8h2.5v8.3h-2.5zM1753.7,380.5h2.5v8.3h-2.5zM1757.2,372.3h2.5v8.3h-2.5zM1760.8,364h2.5v8.3h-2.5zM1764.3,355.8h2.5v8.3h-2.5zM1767.8,347.5h2.5v8.3h-2.5zM1774.9,369.2h2.5v8.3h-2.5zM1778.5,361h2.5v8.3h-2.5zM1782,352.7h2.5v8.3h-2.5zM1789.1,374.4h2.5v8.3h-2.5zM1792.6,366.2h2.5v8.3h-2.5zM1796.2,357.9h2.5v8.3h-2.5zM1799.7,349.6h2.5v8.3h-2.5zM1803.3,341.4h2.5v8.3h-2.5zM1806.8,333.1h2.5v8.3h-2.5zM1810.3,324.9h2.5v8.3h-2.5zM1813.9,316.6h2.5v8.3h-2.5zM1821,338.3h2.5v8.3h-2.5z" fill="#ff0000"/>
<path d="M74.8,97.2h2.5v30h-2.5zM99.6,77.6h2.5v30h-2.5zM117.3,74.6h2.5v30h-2.5zM120.8,104.5h2.5v30h-2.5zM127.9,126.3h2.5v30h-2.5zM131.4,156.3h2.5v30h-2.5zM135,186.3h2.5v30h-2.5zM159.8,166.7h2.5v30h-2.5zM173.9,171.9h2.5v30h-2.5zM188.1,177.1h2.5v30h-2.5zM216.4,149.2h2.5v30h-2.5zM220,179.2h2.5v30h-2.5zM223.5,209.2h2.5v30h-2.5zM241.2,206.2h2.5v30h-2.5zM258.9,203.1h2.5v30h-2.5zM266,224.8h2.5v30h-2.5zM283.7,221.8h2.5v30h-2.5zM315.6,185.7h2.5v30h-2.5zM326.2,199.1h2.5v30h-2.5zM329.8,229.1h2.5v30h-2.5zM358.1,201.3h2.5v30h-2.5zM368.7,214.7h2.5v30h-2.5zM407.7,162.1h2.5v30h-2.5zM418.3,175.6h2.5v30h-2.5zM421.9,205.6h2.5v30h-2.5zM432.5,219h2.5v30h-2.5zM443.1,232.5h2.5v30h-2.5zM453.8,246h2.5v30h-2.5zM460.8,267.7h2.5v30h-2.5zM464.4,297.7h2.5v30h-2.5zM485.6,286.4h2.5v30h-2.5zM489.2,316.4h2.5v30h-2.5zM521.1,280.3h2.5v30h-2.5zM528.1,302h2.5v30h-2.5zM538.8,315.5h2.5v30h-2.5zM545.8,337.2h2.5v30h-2.5zM560,342.4h2.5v30h-2.5zM563.6,372.4h2.5v30h-2.5zM574.2,385.8h2.5v30h-2.5zM588.3,391h2.5v30h-2.5zM609.6,379.7h2.5v30h-2.5zM627.3,376.7h2.5v30h-2.5zM652.1,357.1h2.5v30h-2.5zM666.3,362.3h2.5v30h-2.5zM684,359.2h2.5v30h-2.5zM691.1,381h2.5v30h-2.5zM730,328.3h2.5v30h-2.5zM733.6,358.3h2.5v30h-2.5zM747.7,363.5h2.5v30h-2.5zM758.4,377h2.5v30h-2.5zM776.1,373.9h2.5v30h-2.5zM783.2,395.7h2.5v30h-2.5zM790.2,417.4h2.5v30h-2.5zM804.4,422.6h2.5v30h-2.5zM808,452.6h2.5v30h-2.5zM815,474.3h2.5v30h-2.5zM829.2,479.5h2.5v30h-2.5zM889.4,377.3h2.5v30h-2.5zM893,407.3h2.5v30h-2.5zM896.5,437.3h2.5v30h-2.5zM900,467.3h2.5v30h-2.5zM907.1,489h2.5v30h-2.5zM924.8,486h2.5v30h-2.5zM942.5,482.9h2.5v30h-2.5zM949.6,504.6h2.5v30h-2.5zM953.2,534.6h2.5v30h-2.5zM956.7,564.6h2.5v30h-2.5zM988.6,528.5h2.5v30h-2.5zM995.7,550.2h2.5v30h-2.5zM1009.8,555.4h2.5v30h-2.5zM1013.4,585.4h2.5v30h-2.5zM1016.9,615.4h2.5v30h-2.5zM1027.6,628.9h2.5v30h-2.5zM1048.8,617.6h2.5v30h-2.5zM1052.4,647.6h2.5v30h-2.5zM1066.5,652.8h2.5v30h-2.5zM1112.6,583.6h2.5v30h-2.5zM1151.5,531h2.5v30h-2.5zM1179.9,503.2h2.5v30h-2.5zM1197.6,500.1h2.5v30h-2.5zM1204.7,521.8h2.5v30h-2.5zM1222.4,518.8h2.5v30h-2.5zM1236.5,524h2.5v30h-2.5zM1254.2,520.9h2.5v30h-2.5zM1268.4,526.1h2.5v30h-2.5zM1279,539.6h2.5v30h-2.5zM1289.7,553h2.5v30h-2.5zM1296.8,574.8h2.5v30h-2.5zM1300.3,604.8h2.5v30h-2.5zM1328.6,576.9h2.5v30h-2.5zM1353.4,557.3h2.5v30h-2.5zM1403,479.9h2.5v30h-2.5zM1413.6,493.4h2.5v30h-2.5zM1427.8,498.6h2.5v30h-2.5zM1473.8,429.5h2.5v30h-2.5zM1488,434.7h2.5v30h-2.5zM1491.6,464.6h2.5v30h-2.5zM1505.7,469.9h2.5v30h-2.5zM1509.3,499.8h2.5v30h-2.5zM1544.7,455.5h2.5v30h-2.5zM1548.2,485.5h2.5v30h-2.5zM1551.8,515.5h2.5v30h-2.5zM1555.3,545.4h2.5v30h-2.5zM1569.5,550.6h2.5v30h-2.5zM1601.4,514.5h2.5v30h-2.5zM1622.6,503.2h2.5v30h-2.5zM1643.9,491.9h2.5v30h-2.5zM1665.1,480.6h2.5v30h-2.5zM1682.8,477.5h2.5v30h-2.5zM1728.9,408.4h2.5v30h-2.5zM1771.4,347.5h2.5v30h-2.5zM1785.5,352.7h2.5v30h-2.5zM1817.4,316.6h2.5v30h-2.5z" fill="#00ffff"/>
<polyline points="54.8,188.2 58.3,184.5 61.8,180.3 65.4,175.3 68.9,169.6 72.5,163.4 76,157.1 79.6,152.7 83.1,148.3 86.6,144 90.2,140 93.7,136.2 97.3,132.2 100.8,127.4 104.3,123.6 107.9,119.2 111.4,114.8 115,110.5 118.5,106.4 122.1,104.4 125.6,104.2 129.1,104 132.7,105.8 136.2,109.6 139.8,115.4 143.3,121.3 146.8,125.1 150.4,128.9 153.9,132.7 157.5,136.5 161,140.4 164.6,146.2 168.1,152 171.6,155.8 175.2,159.7 178.7,165.5 182.3,171.3 185.8,177.2 189.4,181 192.9,184.8 196.4,188.6 200,190.4 203.5,190.2 207.1,188 210.6,185.8 214.1,183.5 217.7,181.3 221.2,181.1 224.8,182.9 228.3,186.7 231.9,188.5 235.4,190.3 238.9,192.1 242.5,193.9 246,195.8 249.6,197.6 253.1,199.4 256.7,201.2 260.2,201 263.7,202.8 267.3,204.6 270.8,208.4 274.4,212.2 277.9,216 281.4,219.8 285,223.7 288.5,227.5 292.1,229.3 295.6,229.1 299.2,228.9 302.7,228.6 306.2,228.4 309.8,228.2 313.3,226 316.9,223.8 320.4,223.6 323.9,223.4 327.5,223.2 331,223 334.6,224.8 338.1,224.5 341.7,224.3 345.2,224.1 348.7,223.9 352.3,223.7 355.8,221.5 359.4,219.3 362.9,219.1 366.5,218.9 370,218.6 373.5,220.4 377.1,222.3 380.6,224.1 384.2,225.9 387.7,225.7 391.2,225.4 394.8,225.2 398.3,223 401.9,218.8 405.4,214.5 409,210.3 412.5,208.1 416,205.9 419.6,203.6 423.1,203.4 426.7,205.2 430.2,205 433.8,204.8 437.3,206.6 440.8,206.4 444.4,206.2 447.9,208 451.5,209.8 455,211.6 458.5,215.4 462.1,219.3 465.6,225.1 469.2,232.9 472.7,240.8 476.3,248.6 479.8,254.4 483.3,260.3 486.9,266.1 490.4,271.9 494,277.8 497.5,283.6 501.1,289.4 504.6,293.3 508.1,297.1 511.7,300.9 515.2,302.7 518.8,304.5 522.3,306.3 525.8,308.1 529.4,309.9 532.9,311.7 536.5,311.5 540,311.3 543.6,313.1 547.1,314.9 550.6,318.7 554.2,322.5 557.7,324.3 561.3,324.1 564.8,325.9 568.3,329.8 571.9,333.6 575.4,337.4 579,343.2 582.5,349.1 586.1,354.9 589.6,360.7 593.1,366.5 596.7,372.4 600.2,376.2 603.8,380 607.3,383.8 610.9,385.6 614.4,389.5 617.9,391.3 621.5,393.1 625,394.9 628.6,396.7 632.1,398.5 635.6,398.3 639.2,398.1 642.7,397.8 646.3,395.6 649.8,393.4 653.4,391.2 656.9,391 660.4,388.8 664,386.5 667.5,384.3 671.1,384.1 674.6,383.9 678.1,383.7 681.7,381.5 685.2,379.2 688.8,379 692.3,378.8 695.9,380.6 699.4,380.4 702.9,380.2 706.5,380 710,379.8 713.6,379.6 717.1,379.4 720.7,379.2 724.2,376.9 727.7,374.7 731.3,372.5 734.8,372.3 738.4,372.1 741.9,371.9 745.4,371.7 749,371.5 752.5,373.3 756.1,373.1 759.6,372.8 763.2,372.6 766.7,372.4 770.2,372.2 773.8,372 777.3,371.8 780.9,373.6 784.4,375.4 788,379.2 791.5,383 795,388.9 798.6,394.7 802.1,398.5 805.7,400.3 809.2,404.1 812.7,410 816.3,415.8 819.8,421.6 823.4,427.5 826.9,433.3 830.5,437.1 834,442.9 837.5,448.8 841.1,454.6 844.6,460.4 848.2,464.3 851.7,468.1 855.2,469.9 858.8,471.7 862.3,471.5 865.9,471.3 869.4,471.1 873,470.8 876.5,468.6 880,464.4 883.6,460.2 887.1,453.9 890.7,447.7 894.2,443.4 897.8,441.2 901.3,439 904.8,438.8 908.4,438.6 911.9,440.4 915.5,442.2 919,444 922.5,445.8 926.1,447.6 929.6,451.4 933.2,455.2 936.7,459 940.3,462.9 943.8,466.7 947.3,472.5 950.9,478.3 954.4,486.2 958,496 961.5,505.9 965.1,513.7 968.6,519.6 972.1,523.4 975.7,527.2 979.2,529 982.8,530.8 986.3,532.6 989.8,534.4 993.4,538.2 996.9,540 1000.5,543.9 1004,547.7 1007.6,551.5 1011.1,555.3 1014.6,559.1 1018.2,565 1021.7,570.8 1025.3,574.6 1028.8,576.4 1032.3,580.2 1035.9,584.1 1039.4,587.9 1043,591.7 1046.5,595.5 1050.1,599.3 1053.6,605.2 1057.1,613 1060.7,618.8 1064.2,624.7 1067.8,628.5 1071.3,634.3 1074.9,640.1 1078.4,646 1081.9,649.8 1085.5,651.6 1089,651.4 1092.6,651.2 1096.1,651 1099.6,648.7 1103.2,646.5 1106.7,644.3 1110.3,642.1 1113.8,639.9 1117.4,639.6 1120.9,637.4 1124.4,633.2 1128,629 1131.5,624.7 1135.1,620.5 1138.6,614.2 1142.2,608 1145.7,601.7 1149.2,595.5 1152.8,589.2 1156.3,585 1159.9,580.8 1163.4,576.5 1166.9,572.3 1170.5,568.1 1174,563.8 1177.6,559.6 1181.1,555.4 1184.7,551.1 1188.2,546.9 1191.7,542.7 1195.3,538.4 1198.8,534.2 1202.4,532 1205.9,529.7 1209.4,529.5 1213,529.3 1216.5,529.1 1220.1,528.9 1223.6,526.7 1227.2,526.5 1230.7,526.3 1234.2,526.1 1237.8,525.8 1241.3,527.7 1244.9,529.5 1248.4,531.3 1252,531.1 1255.5,530.8 1259,532.6 1262.6,534.5 1266.1,536.3 1269.7,536 1273.2,537.9 1276.7,537.6 1280.3,537.4 1283.8,539.2 1287.4,541 1290.9,542.8 1294.5,544.7 1298,546.5 1301.5,550.3 1305.1,556.1 1308.6,559.9 1312.2,563.7 1315.7,567.6 1319.3,571.4 1322.8,575.2 1326.3,577 1329.9,578.8 1333.4,582.6 1337,586.4 1340.5,588.2 1344,590 1347.6,591.9 1351.1,591.6 1354.7,591.4 1358.2,593.2 1361.8,593 1365.3,592.8 1368.8,590.6 1372.4,586.4 1375.9,582.1 1379.5,577.9 1383,573.7 1386.5,569.4 1390.1,565.2 1393.6,561 1397.2,556.7 1400.7,550.5 1404.3,544.2 1407.8,540 1411.3,535.8 1414.9,531.5 1418.4,529.3 1422,527.1 1425.5,522.8 1429.1,518.6 1432.6,516.4 1436.1,514.2 1439.7,511.9 1443.2,509.7 1446.8,507.5 1450.3,505.3 1453.8,503 1457.4,500.8 1460.9,498.6 1464.5,496.4 1468,494.2 1471.6,491.9 1475.1,487.7 1478.6,485.5 1482.2,483.3 1485.7,479 1489.3,474.8 1492.8,472.6 1496.4,472.4 1499.9,470.1 1503.4,467.9 1507,465.7 1510.5,465.5 1514.1,467.3 1517.6,469.1 1521.1,470.9 1524.7,472.7 1528.2,474.5 1531.8,476.3 1535.3,478.1 1538.9,479.9 1542.4,481.7 1545.9,481.5 1549.5,483.3 1553,487.1 1556.6,493 1560.1,498.8 1563.6,502.6 1567.2,506.4 1570.7,510.2 1574.3,516.1 1577.8,519.9 1581.4,521.7 1584.9,523.5 1588.4,525.3 1592,527.1 1595.5,528.9 1599.1,530.7 1602.6,532.5 1606.2,536.3 1609.7,540.2 1613.2,544 1616.8,545.8 1620.3,545.6 1623.9,543.4 1627.4,541.1 1630.9,538.9 1634.5,536.7 1638,534.5 1641.6,530.2 1645.1,526 1648.7,523.8 1652.2,521.6 1655.7,519.3 1659.3,517.1 1662.8,514.9 1666.4,512.7 1669.9,512.5 1673.5,510.2 1677,508 1680.5,505.8 1684.1,503.6 1687.6,503.4 1691.2,503.2 1694.7,500.9 1698.2,498.7 1701.8,496.5 1705.3,494.3 1708.9,492 1712.4,489.8 1716,485.6 1719.5,481.3 1723,477.1 1726.6,472.9 1730.1,468.6 1733.7,466.4 1737.2,462.2 1740.7,458 1744.3,453.7 1747.8,449.5 1751.4,445.2 1754.9,439 1758.5,432.7 1762,426.5 1765.5,420.3 1769.1,414 1772.6,407.8 1776.2,403.5 1779.7,399.3 1783.3,395 1786.8,390.8 1790.3,388.6 1793.9,386.4 1797.4,384.1 1801,379.9 1804.5,375.7 1808,371.4 1811.6,367.2 1815.1,363 1818.7,358.7 1822.2,356.5" fill="none" stroke="#6a5acd" stroke-width="1.35" stroke-linejoin="round"/>
<path d="M57,777.4h2.5v11.8h-2.5zM60.6,776.7h2.5v12.5h-2.5zM64.1,775.9h2.5v13.3h-2.5zM67.7,775.2h2.5v14h-2.5zM71.2,774.7h2.5v14.5h-2.5zM88.9,785.6h2.5v3.6h-2.5zM92.5,784.8h2.5v4.4h-2.5zM96,783.8h2.5v5.4h-2.5zM110.2,789.2h2.5v2.6h-2.5zM113.7,789.2h2.5v1.4h-2.5zM142.1,789.2h2.5v42.5h-2.5zM145.6,789.2h2.5v37.7h-2.5zM149.1,789.2h2.5v31.3h-2.5zM152.7,789.2h2.5v24.2h-2.5zM156.2,789.2h2.5v17h-2.5zM159.8,789.2h2.5v16.4h-2.5zM163.3,789.2h2.5v13.6h-2.5zM166.9,789.2h2.5v9.6h-2.5zM170.4,789.2h2.5v4.9h-2.5zM177.5,789.2h2.5v5.4h-2.5zM181,789.2h2.5v2.8h-2.5zM184.6,788.6h2.5v0.8h-2.5zM191.6,789.2h2.5v1.8h-2.5zM195.2,789.1h2.5v0.8h-2.5zM198.7,786.2h2.5v3h-2.5zM202.3,782.9h2.5v6.3h-2.5zM205.8,779.5h2.5v9.7h-2.5zM209.4,776.2h2.5v13h-2.5zM212.9,773.3h2.5v15.9h-2.5zM234.1,789.2h2.5v9h-2.5zM237.7,789.2h2.5v5.9h-2.5zM244.8,789.2h2.5v7.8h-2.5zM248.3,789.2h2.5v5.3h-2.5zM251.9,789.2h2.5v1.9h-2.5zM255.4,787.1h2.5v2.1h-2.5zM262.5,789.2h2.5v0.8h-2.5zM273.1,789.2h2.5v4.1h-2.5zM276.7,789.2h2.5v1.3h-2.5zM280.2,786.9h2.5v2.3h-2.5zM287.3,789.2h2.5v0.8h-2.5zM290.8,787.6h2.5v1.6h-2.5zM294.4,784.9h2.5v4.3h-2.5zM297.9,781.7h2.5v7.5h-2.5zM301.4,778.4h2.5v10.8h-2.5zM305,775.2h2.5v14h-2.5zM308.5,772.3h2.5v16.9h-2.5zM312.1,769.8h2.5v19.4h-2.5zM340.4,789.2h2.5v5.7h-2.5zM344,789.2h2.5v3.1h-2.5zM347.5,789h2.5v0.8h-2.5zM351,785.5h2.5v3.7h-2.5zM354.6,781.9h2.5v7.3h-2.5zM365.2,784.9h2.5v4.3h-2.5zM375.8,789.2h2.5v1.2h-2.5zM379.4,788.5h2.5v0.8h-2.5zM382.9,785.9h2.5v3.3h-2.5zM386.5,783h2.5v6.2h-2.5zM390,780.1h2.5v9.1h-2.5zM393.5,777.4h2.5v11.8h-2.5zM397.1,774.9h2.5v14.3h-2.5zM400.6,772.7h2.5v16.5h-2.5zM404.2,770.9h2.5v18.3h-2.5zM439.6,789.2h2.5v16h-2.5zM446.7,789.2h2.5v18.9h-2.5zM450.2,789.2h2.5v16.2h-2.5zM457.3,789.2h2.5v17.6h-2.5zM471.5,789.2h2.5v24.3h-2.5zM475,789.2h2.5v19.5h-2.5zM478.5,789.2h2.5v13.6h-2.5zM482.1,789.2h2.5v7.4h-2.5zM496.3,789.2h2.5v9.4h-2.5zM499.8,789.2h2.5v5.4h-2.5zM503.3,789.2h2.5v0.8h-2.5zM506.9,784.7h2.5v4.5h-2.5zM510.4,779.9h2.5v9.3h-2.5zM514,775.3h2.5v13.9h-2.5zM517.5,771.3h2.5v17.9h-2.5zM535.2,783h2.5v6.2h-2.5zM552.9,789.2h2.5v5.7h-2.5zM556.5,789.2h2.5v2.8h-2.5zM570.6,789.2h2.5v10.8h-2.5zM577.7,789.2h2.5v12.8h-2.5zM581.3,789.2h2.5v9.6h-2.5zM584.8,789.2h2.5v5.1h-2.5zM591.9,789.2h2.5v4.9h-2.5zM595.4,789.2h2.5v1.6h-2.5zM599,786.7h2.5v2.5h-2.5zM602.5,782.2h2.5v7h-2.5zM606.1,777.8h2.5v11.4h-2.5zM613.1,779.9h2.5v9.3h-2.5zM616.7,778.4h2.5v10.8h-2.5zM620.2,776.1h2.5v13.1h-2.5zM623.8,773.5h2.5v15.7h-2.5zM634.4,777.8h2.5v11.4h-2.5zM637.9,776.3h2.5v12.9h-2.5zM641.5,774.3h2.5v14.9h-2.5zM645,772.1h2.5v17.1h-2.5zM648.6,770h2.5v19.2h-2.5zM662.7,776.1h2.5v13.1h-2.5zM676.9,782.5h2.5v6.7h-2.5zM680.4,780.8h2.5v8.4h-2.5zM698.2,789.2h2.5v5.3h-2.5zM701.7,789.2h2.5v3.4h-2.5zM705.2,789.2h2.5v0.8h-2.5zM708.8,786.5h2.5v2.7h-2.5zM712.3,783.1h2.5v6.1h-2.5zM715.9,779.9h2.5v9.3h-2.5zM719.4,777h2.5v12.2h-2.5zM722.9,774.4h2.5v14.8h-2.5zM726.5,772.2h2.5v17h-2.5zM744.2,789.2h2.5v1.5h-2.5zM754.8,789.2h2.5v6.7h-2.5zM765.4,789.2h2.5v10h-2.5zM769,789.2h2.5v7.1h-2.5zM772.5,789.2h2.5v3.5h-2.5zM779.6,789.2h2.5v5.8h-2.5zM797.3,789.2h2.5v14.6h-2.5zM800.9,789.2h2.5v10.9h-2.5zM818.6,789.2h2.5v22.3h-2.5zM822.1,789.2h2.5v19h-2.5zM825.7,789.2h2.5v14.1h-2.5zM832.7,789.2h2.5v12.3h-2.5zM836.3,789.2h2.5v8.2h-2.5zM839.8,789.2h2.5v3.2h-2.5zM843.4,787.1h2.5v2.1h-2.5zM846.9,781.9h2.5v7.3h-2.5zM850.5,777h2.5v12.2h-2.5zM854,772.6h2.5v16.6h-2.5zM857.5,768.8h2.5v20.4h-2.5zM861.1,765.6h2.5v23.6h-2.5zM864.6,763h2.5v26.2h-2.5zM868.2,761h2.5v28.2h-2.5zM871.7,759.5h2.5v29.7h-2.5zM875.3,758.5h2.5v30.7h-2.5zM878.8,757.9h2.5v31.3h-2.5zM882.3,757.7h2.5v31.5h-2.5zM914.2,789.2h2.5v26.8h-2.5zM917.8,789.2h2.5v22.9h-2.5zM921.3,789.2h2.5v17.8h-2.5zM928.4,789.2h2.5v16.2h-2.5zM931.9,789.2h2.5v12.3h-2.5zM935.5,789.2h2.5v7.4h-2.5zM939,789.2h2.5v2.3h-2.5zM946.1,789.2h2.5v2.5h-2.5zM963.8,789.2h2.5v21.6h-2.5zM967.3,789.2h2.5v17.4h-2.5zM970.9,789.2h2.5v11.9h-2.5zM974.4,789.2h2.5v5.8h-2.5zM978,788.8h2.5v0.8h-2.5zM981.5,783h2.5v6.2h-2.5zM985.1,777.6h2.5v11.6h-2.5zM992.1,778.9h2.5v10.3h-2.5zM1002.8,784.2h2.5v5h-2.5zM1006.3,782h2.5v7.2h-2.5zM1024,789.2h2.5v14h-2.5zM1031.1,789.2h2.5v16.1h-2.5zM1034.6,789.2h2.5v12.6h-2.5zM1038.2,789.2h2.5v7.7h-2.5zM1041.7,789.2h2.5v2.1h-2.5zM1045.3,785.6h2.5v3.6h-2.5zM1059.4,789.2h2.5v1.6h-2.5zM1063,787.5h2.5v1.7h-2.5zM1070.1,789.2h2.5v0.8h-2.5zM1073.6,786.7h2.5v2.5h-2.5zM1077.1,783.1h2.5v6.1h-2.5zM1080.7,779.2h2.5v10h-2.5zM1084.2,775.1h2.5v14.1h-2.5zM1087.8,771.3h2.5v17.9h-2.5zM1091.3,767.9h2.5v21.3h-2.5zM1094.9,764.9h2.5v24.3h-2.5zM1098.4,762.4h2.5v26.8h-2.5zM1101.9,760.5h2.5v28.7h-2.5zM1105.5,759h2.5v30.2h-2.5zM1109,757.9h2.5v31.3h-2.5zM1130.3,769.4h2.5v19.8h-2.5zM1133.8,768.9h2.5v20.3h-2.5zM1137.4,768.4h2.5v20.8h-2.5zM1140.9,767.9h2.5v21.3h-2.5zM1144.4,767.5h2.5v21.7h-2.5zM1148,767.3h2.5v21.9h-2.5zM1165.7,780h2.5v9.2h-2.5zM1169.2,779.5h2.5v9.7h-2.5zM1172.8,778.7h2.5v10.5h-2.5zM1176.3,777.9h2.5v11.3h-2.5zM1190.5,787.5h2.5v1.7h-2.5zM1194,786.6h2.5v2.6h-2.5zM1215.3,789.2h2.5v12.5h-2.5zM1218.8,789.2h2.5v9.8h-2.5zM1229.5,789.2h2.5v11.6h-2.5zM1233,789.2h2.5v8.9h-2.5zM1243.6,789.2h2.5v10.5h-2.5zM1247.2,789.2h2.5v7.7h-2.5zM1250.7,789.2h2.5v4.3h-2.5zM1261.3,789.2h2.5v5.7h-2.5zM1264.9,789.2h2.5v3.2h-2.5zM1275.5,789.2h2.5v5.6h-2.5zM1286.1,789.2h2.5v8.6h-2.5zM1307.4,789.2h2.5v23.2h-2.5zM1310.9,789.2h2.5v19.1h-2.5zM1314.5,789.2h2.5v13.8h-2.5zM1318,789.2h2.5v8.1h-2.5zM1321.5,789.2h2.5v2.3h-2.5zM1325.1,786h2.5v3.2h-2.5zM1332.2,786.7h2.5v2.5h-2.5zM1335.7,784.6h2.5v4.6h-2.5zM1339.3,781.8h2.5v7.4h-2.5zM1342.8,778.8h2.5v10.4h-2.5zM1346.3,775.7h2.5v13.5h-2.5zM1349.9,772.9h2.5v16.3h-2.5zM1360.5,778.2h2.5v11h-2.5zM1364,777.2h2.5v12h-2.5zM1367.6,775.7h2.5v13.5h-2.5zM1371.1,774h2.5v15.2h-2.5zM1374.7,772.3h2.5v16.9h-2.5zM1378.2,770.7h2.5v18.5h-2.5zM1381.8,769.4h2.5v19.8h-2.5zM1385.3,768.2h2.5v21h-2.5zM1388.8,767.3h2.5v21.9h-2.5zM1392.4,766.7h2.5v22.5h-2.5zM1395.9,766.4h2.5v22.8h-2.5zM1399.5,766.2h2.5v23h-2.5zM1424.3,789.2h2.5v1.7h-2.5zM1434.9,789.2h2.5v8.6h-2.5zM1438.4,789.2h2.5v6.9h-2.5zM1442,789.2h2.5v4.5h-2.5zM1445.5,789.2h2.5v1.7h-2.5zM1449.1,788h2.5v1.2h-2.5zM1452.6,785.2h2.5v4h-2.5zM1456.1,782.6h2.5v6.6h-2.5zM1459.7,780.3h2.5v8.9h-2.5zM1463.2,778.3h2.5v10.9h-2.5zM1466.8,776.6h2.5v12.6h-2.5zM1470.3,775.3h2.5v13.9h-2.5zM1502.2,789.2h2.5v14.6h-2.5zM1516.4,789.2h2.5v25.7h-2.5zM1519.9,789.2h2.5v22.2h-2.5zM1523.4,789.2h2.5v17.6h-2.5zM1527,789.2h2.5v12.5h-2.5zM1530.5,789.2h2.5v7.3h-2.5zM1534.1,789.2h2.5v2.3h-2.5zM1537.6,786.9h2.5v2.3h-2.5zM1541.1,782.7h2.5v6.5h-2.5zM1562.4,789.2h2.5v26h-2.5zM1565.9,789.2h2.5v22.8h-2.5zM1573,789.2h2.5v22.4h-2.5zM1576.6,789.2h2.5v18.3h-2.5zM1580.1,789.2h2.5v13.1h-2.5zM1583.7,789.2h2.5v7.3h-2.5zM1587.2,789.2h2.5v1.5h-2.5zM1590.7,785.2h2.5v4h-2.5zM1594.3,780.2h2.5v9h-2.5zM1597.8,775.8h2.5v13.4h-2.5zM1608.4,778h2.5v11.2h-2.5zM1612,776.4h2.5v12.8h-2.5zM1615.5,774.4h2.5v14.8h-2.5zM1619.1,772.4h2.5v16.8h-2.5zM1633.2,778.1h2.5v11.1h-2.5zM1636.8,776.8h2.5v12.4h-2.5zM1640.3,775.1h2.5v14.1h-2.5zM1654.5,781.4h2.5v7.8h-2.5zM1658,780h2.5v9.2h-2.5zM1661.6,778.3h2.5v10.9h-2.5zM1675.7,784.2h2.5v5h-2.5zM1679.3,782.6h2.5v6.6h-2.5zM1689.9,788.8h2.5v0.8h-2.5zM1693.5,787.6h2.5v1.6h-2.5zM1697,785.7h2.5v3.5h-2.5zM1700.5,783.4h2.5v5.8h-2.5zM1704.1,781.2h2.5v8h-2.5zM1707.6,779h2.5v10.2h-2.5zM1711.2,777h2.5v12.2h-2.5zM1714.7,775.3h2.5v13.9h-2.5zM1718.2,773.9h2.5v15.3h-2.5zM1721.8,772.7h2.5v16.5h-2.5zM1725.3,771.8h2.5v17.4h-2.5zM1743,782.6h2.5v6.6h-2.5zM1746.6,781.8h2.5v7.4h-2.5zM1750.1,780.9h2.5v8.3h-2.5zM1753.7,779.9h2.5v9.3h-2.5zM1757.2,778.9h2.5v10.3h-2.5zM1760.8,778h2.5v11.2h-2.5zM1764.3,777.3h2.5v11.9h-2.5zM1767.8,776.7h2.5v12.5h-2.5zM1796.2,789.2h2.5v7.4h-2.5zM1799.7,789.2h2.5v5.8h-2.5zM1803.3,789.2h2.5v3.7h-2.5zM1806.8,789.2h2.5v1.4h-2.5zM1810.3,788.3h2.5v0.9h-2.5zM1813.9,786.1h2.5v3.1h-2.5z" fill="#ff0000"/>
<path d="M74.8,780.6h2.5v8.6h-2.5zM78.3,784h2.5v5.2h-2.5zM81.8,785.6h2.5v3.6h-2.5zM85.4,786h2.5v3.2h-2.5zM99.6,789h2.5v0.8h-2.5zM103.1,789.2h2.5v2.4h-2.5zM106.6,789.2h2.5v3.1h-2.5zM117.3,789.2h2.5v6.2h-2.5zM120.8,789.2h2.5v14.5h-2.5zM124.3,789.2h2.5v18.1h-2.5zM127.9,789.2h2.5v24.9h-2.5zM131.4,789.2h2.5v33.4h-2.5zM135,789.2h2.5v42.3h-2.5zM138.5,789.2h2.5v44.6h-2.5zM173.9,789.2h2.5v6.4h-2.5zM188.1,789.2h2.5v1.9h-2.5zM216.4,777h2.5v12.2h-2.5zM220,784.9h2.5v4.3h-2.5zM223.5,789.2h2.5v5.7h-2.5zM227.1,789.2h2.5v10.1h-2.5zM230.6,789.2h2.5v10.8h-2.5zM241.2,789.2h2.5v8.3h-2.5zM258.9,789.2h2.5v0.8h-2.5zM266,789.2h2.5v4.6h-2.5zM269.6,789.2h2.5v5.5h-2.5zM283.7,789.2h2.5v0.8h-2.5zM315.6,774.1h2.5v15.1h-2.5zM319.2,776.1h2.5v13.1h-2.5zM322.7,776.6h2.5v12.6h-2.5zM326.2,782.4h2.5v6.8h-2.5zM329.8,789.2h2.5v2.2h-2.5zM333.3,789.2h2.5v6.3h-2.5zM336.9,789.2h2.5v7.1h-2.5zM358.1,785h2.5v4.2h-2.5zM361.7,785.8h2.5v3.4h-2.5zM368.7,789.2h2.5v0.8h-2.5zM372.3,789.2h2.5v1.9h-2.5zM407.7,775.9h2.5v13.3h-2.5zM411.2,778.5h2.5v10.7h-2.5zM414.8,779.5h2.5v9.7h-2.5zM418.3,785.8h2.5v3.4h-2.5zM421.9,789.2h2.5v5.9h-2.5zM425.4,789.2h2.5v10.3h-2.5zM429,789.2h2.5v11.3h-2.5zM432.5,789.2h2.5v16.5h-2.5zM436,789.2h2.5v17.6h-2.5zM443.1,789.2h2.5v19.2h-2.5zM453.8,789.2h2.5v18.6h-2.5zM460.8,789.2h2.5v20.9h-2.5zM464.4,789.2h2.5v26.6h-2.5zM467.9,789.2h2.5v27.2h-2.5zM485.6,789.2h2.5v7.6h-2.5zM489.2,789.2h2.5v11.8h-2.5zM492.7,789.2h2.5v11.9h-2.5zM521.1,774.2h2.5v15h-2.5zM524.6,775h2.5v14.2h-2.5zM528.1,780.8h2.5v8.4h-2.5zM531.7,783.1h2.5v6.1h-2.5zM538.8,788h2.5v1.2h-2.5zM542.3,789.2h2.5v0.8h-2.5zM545.8,789.2h2.5v5.7h-2.5zM549.4,789.2h2.5v7h-2.5zM560,789.2h2.5v5.4h-2.5zM563.6,789.2h2.5v11.3h-2.5zM567.1,789.2h2.5v12.6h-2.5zM574.2,789.2h2.5v13.6h-2.5zM588.3,789.2h2.5v6.4h-2.5zM609.6,780h2.5v9.2h-2.5zM627.3,777.2h2.5v12h-2.5zM630.9,778.3h2.5v10.9h-2.5zM652.1,774.4h2.5v14.8h-2.5zM655.6,776.4h2.5v12.8h-2.5zM659.2,776.7h2.5v12.5h-2.5zM666.3,781.2h2.5v8h-2.5zM669.8,783.4h2.5v5.8h-2.5zM673.4,783.6h2.5v5.6h-2.5zM684,785.1h2.5v4.1h-2.5zM687.5,786.6h2.5v2.6h-2.5zM691.1,789.2h2.5v3.5h-2.5zM694.6,789.2h2.5v5.7h-2.5zM730,776.8h2.5v12.4h-2.5zM733.6,785.5h2.5v3.7h-2.5zM737.1,789.2h2.5v0.8h-2.5zM740.7,789.2h2.5v2h-2.5zM747.7,789.2h2.5v6.2h-2.5zM751.3,789.2h2.5v7.6h-2.5zM758.4,789.2h2.5v10.9h-2.5zM761.9,789.2h2.5v11.6h-2.5zM776.1,789.2h2.5v6h-2.5zM783.2,789.2h2.5v10.4h-2.5zM786.7,789.2h2.5v11.2h-2.5zM790.2,789.2h2.5v16h-2.5zM793.8,789.2h2.5v16.6h-2.5zM804.4,789.2h2.5v12.8h-2.5zM808,789.2h2.5v18.1h-2.5zM811.5,789.2h2.5v18.7h-2.5zM815,789.2h2.5v22.8h-2.5zM829.2,789.2h2.5v14.7h-2.5zM885.9,757.8h2.5v31.4h-2.5zM889.4,764.5h2.5v24.7h-2.5zM893,775.1h2.5v14.1h-2.5zM896.5,787.7h2.5v1.5h-2.5zM900,789.2h2.5v11.5h-2.5zM903.6,789.2h2.5v17.8h-2.5zM907.1,789.2h2.5v25.9h-2.5zM910.7,789.2h2.5v28.3h-2.5zM924.8,789.2h2.5v18.4h-2.5zM942.5,789.2h2.5v3.6h-2.5zM949.6,789.2h2.5v6.4h-2.5zM953.2,789.2h2.5v13.1h-2.5zM956.7,789.2h2.5v21.2h-2.5zM960.3,789.2h2.5v23.3h-2.5zM988.6,779.3h2.5v9.9h-2.5zM995.7,783.7h2.5v5.5h-2.5zM999.2,785h2.5v4.2h-2.5zM1009.8,785.5h2.5v3.7h-2.5zM1013.4,789.2h2.5v3.3h-2.5zM1016.9,789.2h2.5v12h-2.5zM1020.5,789.2h2.5v14.9h-2.5zM1027.6,789.2h2.5v17.1h-2.5zM1048.8,786.5h2.5v2.7h-2.5zM1052.4,789.2h2.5v2.3h-2.5zM1055.9,789.2h2.5v3.2h-2.5zM1066.5,789.2h2.5v0.8h-2.5zM1112.6,763.7h2.5v25.5h-2.5zM1116.1,767.1h2.5v22.1h-2.5zM1119.6,768.9h2.5v20.3h-2.5zM1123.2,769.6h2.5v19.6h-2.5zM1126.7,769.7h2.5v19.5h-2.5zM1151.5,773.6h2.5v15.6h-2.5zM1155.1,777.4h2.5v11.8h-2.5zM1158.6,779.3h2.5v9.9h-2.5zM1162.2,780h2.5v9.2h-2.5zM1179.9,783.5h2.5v5.7h-2.5zM1183.4,786.4h2.5v2.8h-2.5zM1186.9,787.5h2.5v1.7h-2.5zM1197.6,789.2h2.5v2.6h-2.5zM1201.1,789.2h2.5v4.8h-2.5zM1204.7,789.2h2.5v11.5h-2.5zM1208.2,789.2h2.5v14.2h-2.5zM1211.7,789.2h2.5v14.2h-2.5zM1222.4,789.2h2.5v13h-2.5zM1225.9,789.2h2.5v13.2h-2.5zM1236.5,789.2h2.5v12h-2.5zM1240.1,789.2h2.5v12.2h-2.5zM1254.2,789.2h2.5v7.1h-2.5zM1257.8,789.2h2.5v7.3h-2.5zM1268.4,789.2h2.5v6.6h-2.5zM1272,789.2h2.5v7h-2.5zM1279,789.2h2.5v9.5h-2.5zM1282.6,789.2h2.5v10.2h-2.5zM1289.7,789.2h2.5v12.2h-2.5zM1293.2,789.2h2.5v12.4h-2.5zM1296.8,789.2h2.5v16.9h-2.5zM1300.3,789.2h2.5v23.7h-2.5zM1303.8,789.2h2.5v25.2h-2.5zM1328.6,787.4h2.5v1.8h-2.5zM1353.4,776.7h2.5v12.5h-2.5zM1357,778.2h2.5v11h-2.5zM1403,772.7h2.5v16.5h-2.5zM1406.6,776.6h2.5v12.6h-2.5zM1410.1,778.7h2.5v10.5h-2.5zM1413.6,786h2.5v3.2h-2.5zM1417.2,789.2h2.5v0.8h-2.5zM1420.7,789.2h2.5v1.9h-2.5zM1427.8,789.2h2.5v6.9h-2.5zM1431.3,789.2h2.5v8.9h-2.5zM1473.8,780.7h2.5v8.5h-2.5zM1477.4,783.6h2.5v5.6h-2.5zM1480.9,784.8h2.5v4.4h-2.5zM1484.5,784.9h2.5v4.3h-2.5zM1488,789.2h2.5v1.5h-2.5zM1491.6,789.2h2.5v10.6h-2.5zM1495.1,789.2h2.5v14.9h-2.5zM1498.6,789.2h2.5v15.8h-2.5zM1505.7,789.2h2.5v18.5h-2.5zM1509.3,789.2h2.5v25.3h-2.5zM1512.8,789.2h2.5v27.1h-2.5zM1544.7,785.5h2.5v3.7h-2.5zM1548.2,789.2h2.5v3.3h-2.5zM1551.8,789.2h2.5v12.6h-2.5zM1555.3,789.2h2.5v22.8h-2.5zM1558.9,789.2h2.5v26.6h-2.5zM1569.5,789.2h2.5v24.4h-2.5zM1601.4,778.3h2.5v10.9h-2.5zM1604.9,778.8h2.5v10.4h-2.5zM1622.6,776.8h2.5v12.4h-2.5zM1626.2,778.7h2.5v10.5h-2.5zM1629.7,778.9h2.5v10.3h-2.5zM1643.9,779.8h2.5v9.4h-2.5zM1647.4,781.9h2.5v7.3h-2.5zM1650.9,782.2h2.5v7h-2.5zM1665.1,782.9h2.5v6.3h-2.5zM1668.7,784.9h2.5v4.3h-2.5zM1672.2,785.1h2.5v4.1h-2.5zM1682.8,787.2h2.5v2h-2.5zM1686.4,788.9h2.5v0.8h-2.5zM1728.9,777.6h2.5v11.6h-2.5zM1732.4,780.9h2.5v8.3h-2.5zM1736,782.5h2.5v6.7h-2.5zM1739.5,782.9h2.5v6.3h-2.5zM1771.4,782.7h2.5v6.5h-2.5zM1774.9,786h2.5v3.2h-2.5zM1778.5,787.6h2.5v1.6h-2.5zM1782,788h2.5v1.2h-2.5zM1785.5,789.2h2.5v4.8h-2.5zM1789.1,789.2h2.5v7.6h-2.5zM1792.6,789.2h2.5v8.2h-2.5zM1817.4,789.2h2.5v1.4h-2.5zM1821,789.2h2.5v3.3h-2.5z" fill="#00ffff"/>
<polyline points="54.8,745.5 58.3,742.6 61.8,739.4 65.4,736.1 68.9,732.6 72.5,729 76,726.8 79.6,725.5 83.1,724.6 86.6,723.8 90.2,722.9 93.7,721.8 97.3,720.5 100.8,720.4 104.3,721 107.9,721.8 111.4,722.4 115,722.8 118.5,724.3 122.1,728 125.6,732.5 129.1,738.7 132.7,747.1 136.2,757.6 139.8,768.8 143.3,779.4 146.8,788.9 150.4,796.7 153.9,802.8 157.5,807 161,811.1 164.6,814.5 168.1,816.9 171.6,818.1 175.2,819.7 178.7,821.1 182.3,821.8 185.8,821.6 189.4,822.1 192.9,822.5 196.4,822.5 200,821.8 203.5,820.2 207.1,817.8 210.6,814.6 214.1,810.6 217.7,807.5 221.2,806.5 224.8,807.9 228.3,810.4 231.9,813.1 235.4,815.4 238.9,816.8 242.5,818.9 246,820.9 249.6,822.2 253.1,822.7 256.7,822.1 260.2,822.2 263.7,822.2 267.3,823.3 270.8,824.7 274.4,825.7 277.9,826.1 281.4,825.5 285,825.6 288.5,825.6 292.1,825.2 295.6,824.1 299.2,822.3 302.7,819.5 306.2,816.1 309.8,811.8 313.3,807 316.9,803.2 320.4,800 323.9,796.8 327.5,795.1 331,795.7 334.6,797.3 338.1,799 341.7,800.5 345.2,801.3 348.7,801.2 352.3,800.3 355.8,798.4 359.4,797.4 362.9,796.5 366.5,795.5 370,795.6 373.5,796 377.1,796.4 380.6,796.2 384.2,795.4 387.7,793.8 391.2,791.6 394.8,788.6 398.3,785 401.9,780.9 405.4,776.3 409,773 412.5,770.3 416,767.9 419.6,767.1 423.1,768.5 426.7,771.1 430.2,773.9 433.8,778 437.3,782.4 440.8,786.4 444.4,791.2 447.9,796 451.5,800 455,804.6 458.5,809 462.1,814.3 465.6,820.9 469.2,827.7 472.7,833.8 476.3,838.7 479.8,842.1 483.3,843.9 486.9,845.8 490.4,848.7 494,851.7 497.5,854.1 501.1,855.4 504.6,855.6 508.1,854.4 511.7,852.1 515.2,848.6 518.8,844.2 522.3,840.4 525.8,836.8 529.4,834.7 532.9,833.2 536.5,831.7 540,831.4 543.6,831.4 547.1,832.8 550.6,834.6 554.2,836 557.7,836.7 561.3,838.1 564.8,840.9 568.3,844 571.9,846.7 575.4,850.1 579,853.3 582.5,855.7 586.1,857 589.6,858.6 593.1,859.8 596.7,860.2 600.2,859.6 603.8,857.9 607.3,855 610.9,852.7 614.4,850.4 617.9,847.7 621.5,844.4 625,840.5 628.6,837.5 632.1,834.7 635.6,831.9 639.2,828.7 642.7,825 646.3,820.7 649.8,815.9 653.4,812.2 656.9,809 660.4,805.9 664,802.6 667.5,800.6 671.1,799.1 674.6,797.7 678.1,796.1 681.7,794 685.2,793 688.8,792.3 692.3,793.2 695.9,794.6 699.4,795.9 702.9,796.8 706.5,796.9 710,796.2 713.6,794.7 717.1,792.4 720.7,789.3 724.2,785.6 727.7,781.4 731.3,778.3 734.8,777.4 738.4,777.5 741.9,778 745.4,778.4 749,780 752.5,781.8 756.1,783.5 759.6,786.2 763.2,789.1 766.7,791.6 770.2,793.4 773.8,794.3 777.3,795.8 780.9,797.2 784.4,799.8 788,802.6 791.5,806.6 795,810.8 798.6,814.4 802.1,817.1 805.7,820.4 809.2,824.9 812.7,829.5 816.3,835.2 819.8,840.8 823.4,845.6 826.9,849.1 830.5,852.7 834,855.8 837.5,857.9 841.1,858.7 844.6,858.2 848.2,856.3 851.7,853.3 855.2,849.1 858.8,844 862.3,838.1 865.9,831.5 869.4,824.5 873,817.1 876.5,809.4 880,801.5 883.6,793.7 887.1,785.8 890.7,779.6 894.2,776.1 897.8,775.7 901.3,778.6 904.8,783.1 908.4,789.6 911.9,796.6 915.5,803.3 919,809 922.5,813.5 926.1,818.1 929.6,822.1 933.2,825.2 936.7,827.1 940.3,827.6 943.8,828.5 947.3,829.2 950.9,830.8 954.4,834 958,839.3 961.5,845.2 965.1,850.6 968.6,854.9 972.1,857.9 975.7,859.3 979.2,859.2 982.8,857.7 986.3,854.8 989.8,852.3 993.4,849.7 996.9,848.4 1000.5,847.3 1004,846.1 1007.6,844.3 1011.1,843.4 1014.6,844.2 1018.2,847.2 1021.7,850.9 1025.3,854.4 1028.8,858.6 1032.3,862.7 1035.9,865.8 1039.4,867.8 1043,868.3 1046.5,867.4 1050.1,866.7 1053.6,867.3 1057.1,868.1 1060.7,868.5 1064.2,868.1 1067.8,868.2 1071.3,868.2 1074.9,867.6 1078.4,866.1 1081.9,863.6 1085.5,860.1 1089,855.6 1092.6,850.3 1096.1,844.2 1099.6,837.5 1103.2,830.3 1106.7,822.7 1110.3,814.9 1113.8,808.5 1117.4,803 1120.9,797.9 1124.4,793 1128,788.2 1131.5,783.2 1135.1,778.1 1138.6,772.9 1142.2,767.6 1145.7,762.2 1149.2,756.7 1152.8,752.8 1156.3,749.8 1159.9,747.4 1163.4,745.1 1166.9,742.8 1170.5,740.3 1174,737.7 1177.6,734.9 1181.1,733.5 1184.7,732.8 1188.2,732.4 1191.7,731.9 1195.3,731.3 1198.8,731.9 1202.4,733.2 1205.9,736 1209.4,739.6 1213,743.1 1216.5,746.3 1220.1,748.7 1223.6,752 1227.2,755.3 1230.7,758.2 1234.2,760.4 1237.8,763.4 1241.3,766.5 1244.9,769.1 1248.4,771 1252,772.1 1255.5,773.9 1259,775.7 1262.6,777.1 1266.1,777.9 1269.7,779.6 1273.2,781.3 1276.7,782.7 1280.3,785.1 1283.8,787.6 1287.4,789.8 1290.9,792.9 1294.5,796 1298,800.2 1301.5,806.1 1305.1,812.4 1308.6,818.2 1312.2,823 1315.7,826.4 1319.3,828.4 1322.8,829 1326.3,828.2 1329.9,827.8 1333.4,827.2 1337,826 1340.5,824.2 1344,821.5 1347.6,818.2 1351.1,814.1 1354.7,811 1358.2,808.2 1361.8,805.5 1365.3,802.5 1368.8,799.1 1372.4,795.3 1375.9,791.1 1379.5,786.5 1383,781.5 1386.5,776.3 1390.1,770.8 1393.6,765.2 1397.2,759.5 1400.7,753.7 1404.3,749.6 1407.8,746.4 1411.3,743.8 1414.9,743 1418.4,743.1 1422,743.6 1425.5,744 1429.1,745.8 1432.6,748 1436.1,750.1 1439.7,751.9 1443.2,753 1446.8,753.4 1450.3,753.1 1453.8,752.1 1457.4,750.5 1460.9,748.2 1464.5,745.5 1468,742.4 1471.6,738.9 1475.1,736.8 1478.6,735.3 1482.2,734.2 1485.7,733.2 1489.3,733.6 1492.8,736.2 1496.4,739.9 1499.9,743.9 1503.4,747.5 1507,752.2 1510.5,758.5 1514.1,765.3 1517.6,771.7 1521.1,777.3 1524.7,781.7 1528.2,784.8 1531.8,786.6 1535.3,787.2 1538.9,786.6 1542.4,785 1545.9,784.1 1549.5,784.9 1553,788.1 1556.6,793.8 1560.1,800.4 1563.6,806.9 1567.2,812.6 1570.7,818.7 1574.3,824.3 1577.8,828.9 1581.4,832.2 1584.9,834 1588.4,834.4 1592,833.4 1595.5,831.1 1599.1,827.8 1602.6,825.1 1606.2,822.5 1609.7,819.7 1613.2,816.5 1616.8,812.8 1620.3,808.6 1623.9,805.5 1627.4,802.9 1630.9,800.3 1634.5,797.5 1638,794.4 1641.6,790.9 1645.1,788.6 1648.7,786.7 1652.2,785 1655.7,783.1 1659.3,780.8 1662.8,778 1666.4,776.5 1669.9,775.4 1673.5,774.4 1677,773.1 1680.5,771.5 1684.1,771 1687.6,770.9 1691.2,770.8 1694.7,770.4 1698.2,769.5 1701.8,768.1 1705.3,766.1 1708.9,763.5 1712.4,760.5 1716,757 1719.5,753.2 1723,749.1 1726.6,744.7 1730.1,741.8 1733.7,739.7 1737.2,738.1 1740.7,736.5 1744.3,734.8 1747.8,733 1751.4,730.9 1754.9,728.6 1758.5,726 1762,723.2 1765.5,720.3 1769.1,717.1 1772.6,715.5 1776.2,714.7 1779.7,714.3 1783.3,714 1786.8,715.2 1790.3,717.1 1793.9,719.1 1797.4,721 1801,722.4 1804.5,723.4 1808,723.7 1811.6,723.5 1815.1,722.7 1818.7,723.1 1822.2,723.9" fill="none" stroke="#00d000" stroke-width="1.2" stroke-linejoin="round"/>
<polyline points="54.8,734.5 58.3,730.8 61.8,726.9 65.4,722.8 68.9,718.6 72.5,714.4 76,718.3 79.6,720.3 83.1,721 86.6,720.6 90.2,719.4 93.7,717.4 97.3,715 100.8,720.2 104.3,723.4 107.9,724.9 111.4,725.1 115,724.2 118.5,730.5 122.1,742.4 125.6,750.6 129.1,763.6 132.7,780.5 136.2,800 139.8,813.4 143.3,822 146.8,826.6 150.4,828 153.9,827 157.5,824 161,827.5 164.6,828.2 168.1,826.5 171.6,823 175.2,826.2 178.7,826.5 182.3,824.6 185.8,821 189.4,824 192.9,824.3 196.4,822.4 200,818.8 203.5,813.9 207.1,808.1 210.6,801.6 214.1,794.6 217.7,795.4 221.2,802.2 224.8,813.6 228.3,820.5 231.9,823.9 235.4,824.4 238.9,822.7 242.5,827.2 246,828.6 249.6,827.5 253.1,824.5 256.7,820 260.2,822.4 263.7,822.2 267.3,827.9 270.8,830.2 274.4,829.8 277.9,827.3 281.4,823.2 285,825.9 288.5,825.8 292.1,823.6 295.6,819.8 299.2,814.7 302.7,808.7 306.2,802.1 309.8,795 313.3,787.6 316.9,788.2 320.4,786.9 323.9,784.2 327.5,788.4 331,797.9 334.6,803.6 338.1,806.1 341.7,806.2 345.2,804.4 348.7,801 352.3,796.5 355.8,791.2 359.4,793.3 362.9,793.1 366.5,791.2 370,796 373.5,797.9 377.1,797.6 380.6,795.5 384.2,792.1 387.7,787.7 391.2,782.5 394.8,776.8 398.3,770.7 401.9,764.4 405.4,758.1 409,759.7 412.5,759.6 416,758.2 419.6,763.6 423.1,774.5 426.7,781.4 430.2,785.2 433.8,794.5 437.3,800 440.8,802.4 444.4,810.5 447.9,814.8 451.5,816.2 455,823.2 458.5,826.6 462.1,835.1 465.6,847.5 469.2,854.9 472.7,858.1 476.3,858.2 479.8,855.7 483.3,851.3 486.9,853.4 490.4,860.5 494,863.6 497.5,863.5 501.1,860.8 504.6,856.1 508.1,850 511.7,842.8 515.2,834.8 518.8,826.2 522.3,825.4 525.8,822.6 529.4,826.3 532.9,827.1 536.5,825.5 540,830.1 543.6,831.6 547.1,838.5 550.6,841.6 554.2,841.7 557.7,839.5 561.3,843.4 564.8,852.2 568.3,856.6 571.9,857.5 575.4,863.8 579,866.1 582.5,865.3 586.1,862.1 589.6,865 593.1,864.7 596.7,861.9 600.2,857.1 603.8,850.9 607.3,843.6 610.9,843.5 614.4,841.1 617.9,836.9 621.5,831.3 625,824.7 628.6,825.4 632.1,823.9 635.6,820.5 639.2,815.8 642.7,810.1 646.3,803.6 649.8,796.7 653.4,797.4 656.9,796.2 660.4,793.4 664,789.5 667.5,792.6 671.1,793.3 674.6,792.1 678.1,789.4 681.7,785.6 685.2,788.9 688.8,789.7 692.3,796.7 695.9,800.3 699.4,801.3 702.9,800.2 706.5,797.5 710,793.5 713.6,788.6 717.1,783.1 720.7,777.1 724.2,770.8 727.7,764.4 731.3,765.9 734.8,773.6 738.4,778.1 741.9,780 745.4,779.9 749,786.2 752.5,789.4 756.1,790.2 759.6,797.1 763.2,800.7 766.7,801.6 770.2,800.5 773.8,797.8 777.3,801.8 780.9,803.1 784.4,810.2 788,813.8 791.5,822.6 795,827.4 798.6,829 802.1,828.1 805.7,833.2 809.2,842.9 812.7,848.2 816.3,858 819.8,863.1 823.4,864.6 826.9,863.1 830.5,867.4 834,868.2 837.5,866.1 841.1,861.9 844.6,856.1 848.2,849 851.7,841 855.2,832.5 858.8,823.6 862.3,814.5 865.9,805.3 869.4,796.3 873,787.3 876.5,778.6 880,770.2 883.6,762.1 887.1,754.4 890.7,754.9 894.2,762 897.8,774.2 901.3,790.1 904.8,800.9 908.4,815.5 911.9,824.9 915.5,830.1 919,832 922.5,831.3 926.1,836.5 929.6,838.3 933.2,837.4 936.7,834.5 940.3,829.9 943.8,832.2 947.3,831.7 950.9,837.1 954.4,847.1 958,860.5 961.5,868.5 965.1,872.1 968.6,872.3 972.1,869.7 975.7,865.1 979.2,858.9 982.8,851.5 986.3,843.2 989.8,842.4 993.4,839.5 996.9,842.8 1000.5,843.2 1004,841.1 1007.6,837.1 1011.1,839.7 1014.6,847.5 1018.2,859.1 1021.7,865.7 1025.3,868.3 1028.8,875.7 1032.3,878.8 1035.9,878.5 1039.4,875.5 1043,870.4 1046.5,863.8 1050.1,864 1053.6,869.6 1057.1,871.3 1060.7,870 1064.2,866.4 1067.8,868.9 1071.3,868.2 1074.9,865.1 1078.4,860 1081.9,853.5 1085.5,846 1089,837.7 1092.6,828.9 1096.1,819.9 1099.6,810.7 1103.2,801.5 1106.7,792.5 1110.3,783.7 1113.8,783.1 1117.4,780.9 1120.9,777.6 1124.4,773.5 1128,768.6 1131.5,763.4 1135.1,757.8 1138.6,752.1 1142.2,746.3 1145.7,740.5 1149.2,734.8 1152.8,737.2 1156.3,738 1159.9,737.5 1163.4,735.9 1166.9,733.6 1170.5,730.6 1174,727.3 1177.6,723.6 1181.1,727.8 1184.7,730 1188.2,730.7 1191.7,730.2 1195.3,728.7 1198.8,734.5 1202.4,738 1205.9,747.6 1209.4,753.8 1213,757.3 1216.5,758.8 1220.1,758.5 1223.6,764.9 1227.2,768.5 1230.7,769.8 1234.2,769.3 1237.8,775.4 1241.3,778.7 1244.9,779.6 1248.4,778.7 1252,776.4 1255.5,781 1259,783 1262.6,782.9 1266.1,781.1 1269.7,786.1 1273.2,788.3 1276.7,788.4 1280.3,794.7 1283.8,797.8 1287.4,798.4 1290.9,805.1 1294.5,808.4 1298,817.1 1301.5,829.8 1305.1,837.6 1308.6,841.4 1312.2,842 1315.7,840.2 1319.3,836.5 1322.8,831.3 1326.3,825.1 1329.9,826 1333.4,824.6 1337,821.4 1340.5,816.8 1344,811.1 1347.6,804.7 1351.1,797.8 1354.7,798.5 1358.2,797.3 1361.8,794.5 1365.3,790.5 1368.8,785.6 1372.4,780.1 1375.9,774.2 1379.5,768 1383,761.7 1386.5,755.3 1390.1,748.9 1393.6,742.7 1397.2,736.6 1400.7,730.7 1404.3,733 1407.8,733.8 1411.3,733.2 1414.9,739.7 1418.4,743.7 1422,745.5 1425.5,745.8 1429.1,752.7 1432.6,756.8 1436.1,758.7 1439.7,758.8 1443.2,757.5 1446.8,755.1 1450.3,751.9 1453.8,748.1 1457.4,743.8 1460.9,739.3 1464.5,734.6 1468,729.8 1471.6,725 1475.1,728.2 1478.6,729.7 1482.2,729.8 1485.7,728.9 1489.3,735.1 1492.8,746.9 1496.4,754.8 1499.9,759.7 1503.4,762.2 1507,770.7 1510.5,783.8 1514.1,792.4 1517.6,797.4 1521.1,799.5 1524.7,799.3 1528.2,797.3 1531.8,793.9 1535.3,789.5 1538.9,784.3 1542.4,778.5 1545.9,780.4 1549.5,788.3 1553,800.7 1556.6,816.6 1560.1,827 1563.6,832.9 1567.2,835.4 1570.7,843.1 1574.3,846.8 1577.8,847.3 1581.4,845.3 1584.9,841.3 1588.4,835.9 1592,829.4 1595.5,822.2 1599.1,814.4 1602.6,814.2 1606.2,812.1 1609.7,808.5 1613.2,803.7 1616.8,798 1620.3,791.8 1623.9,793.1 1627.4,792.4 1630.9,790 1634.5,786.5 1638,782 1641.6,776.8 1645.1,779.2 1648.7,779.4 1652.2,778 1655.7,775.3 1659.3,771.6 1662.8,767.2 1666.4,770.2 1669.9,771.1 1673.5,770.3 1677,768.1 1680.5,764.9 1684.1,769 1687.6,770.7 1691.2,770.5 1694.7,768.8 1698.2,766 1701.8,762.3 1705.3,758.1 1708.9,753.3 1712.4,748.3 1716,743.1 1719.5,737.8 1723,732.6 1726.6,727.3 1730.1,730.2 1733.7,731.4 1737.2,731.3 1740.7,730.2 1744.3,728.2 1747.8,725.6 1751.4,722.6 1754.9,719.3 1758.5,715.7 1762,712.1 1765.5,708.4 1769.1,704.6 1772.6,709 1776.2,711.5 1779.7,712.7 1783.3,712.8 1786.8,720 1790.3,724.7 1793.9,727.3 1797.4,728.4 1801,728.2 1804.5,727.1 1808,725.1 1811.6,722.6 1815.1,719.7 1818.7,724.4 1822.2,727.2" fill="none" stroke="#dcdcdc" stroke-width="1.2" stroke-linejoin="round"/>
<defs><linearGradient id="ag" gradientUnits="userSpaceOnUse" x1="100" y1="0" x2="420" y2="0"><stop offset="0" stop-color="#ffb900" stop-opacity="0.15"/><stop offset="1" stop-color="#ffb900" stop-opacity="1"/></linearGradient></defs>
<polygon points="117,29 1738.6,238.8 1736.8,233.2 1750,243.8 1734.5,250.6 1737.6,245.7" fill="#ffb900"/>
<polygon points="102,149 1787.1,335.8 1785.2,330.3 1798.6,340.6 1783.2,347.7 1786.3,342.7" fill="#ffb900"/>
<polygon points="214,310 1681.3,538.5 1679.6,532.9 1692.6,543.8 1676.9,550.2 1680.2,545.4" fill="#ffb900"/>
<g fill="#f0f0f0" font-family="Liberation Serif, Noto Serif CJK SC, serif" font-size="18.9px"><text x="677.5" y="24.4">【</text><text x="698.9" y="24.4">胆</text><text x="755.6" y="24.4">中</text><text x="804.9" y="24.4">】</text><text x="821.8" y="24.4">频</text><text x="840.7" y="24.4">率</text><text x="869" y="24.4">线</text><text x="897.4" y="24.4">当</text><text x="916.3" y="24.4">前</text><text x="935.2" y="24.4">遗</text><text x="954.1" y="24.4">漏</text><text x="1001.3" y="24.4">周</text><text x="1020.2" y="24.4">期</text><text x="1067.5" y="24.4">理</text><text x="1086.4" y="24.4">论</text><text x="1105.3" y="24.4">周</text><text x="1124.2" y="24.4">期</text></g>
<g fill="#f0f0f0" font-family="Liberation Serif, serif" font-size="20.0px"><text transform="translate(722.5,24.7) scale(0.86,1)" text-anchor="middle">1</text><text transform="translate(732,24.7) scale(0.86,1)" text-anchor="middle">2</text><text transform="translate(741.4,24.7) scale(0.86,1)" text-anchor="middle">4</text><text transform="translate(750.9,24.7) scale(0.86,1)" text-anchor="middle">7</text><text transform="translate(779.2,24.7) scale(0.86,1)" text-anchor="middle">1</text><text transform="translate(788.7,24.7) scale(0.86,1)" text-anchor="middle">2</text><text transform="translate(798.1,24.7) scale(0.86,1)" text-anchor="middle">3</text><text transform="translate(864.3,24.7) scale(0.6,1)" text-anchor="middle">K</text><text transform="translate(892.6,24.7) scale(0.86,1)" text-anchor="middle">(</text><text transform="translate(977.7,24.7) scale(0.86,1)" text-anchor="middle">:</text><text transform="translate(987.1,24.7) scale(0.86,1)" text-anchor="middle">0</text><text transform="translate(1043.8,24.7) scale(0.86,1)" text-anchor="middle">:</text><text transform="translate(1053.3,24.7) scale(0.86,1)" text-anchor="middle">1</text><text transform="translate(1147.8,24.7) scale(0.86,1)" text-anchor="middle">:</text><text transform="translate(1157.2,24.7) scale(0.86,1)" text-anchor="middle">1</text><text transform="translate(1166.7,24.7) scale(0.86,1)" text-anchor="middle">.</text><text transform="translate(1176.1,24.7) scale(0.86,1)" text-anchor="middle">2</text><text transform="translate(1185.6,24.7) scale(0.86,1)" text-anchor="middle">8</text><text transform="translate(1195,24.7) scale(0.86,1)" text-anchor="middle">)</text></g>
</svg></body></html>
